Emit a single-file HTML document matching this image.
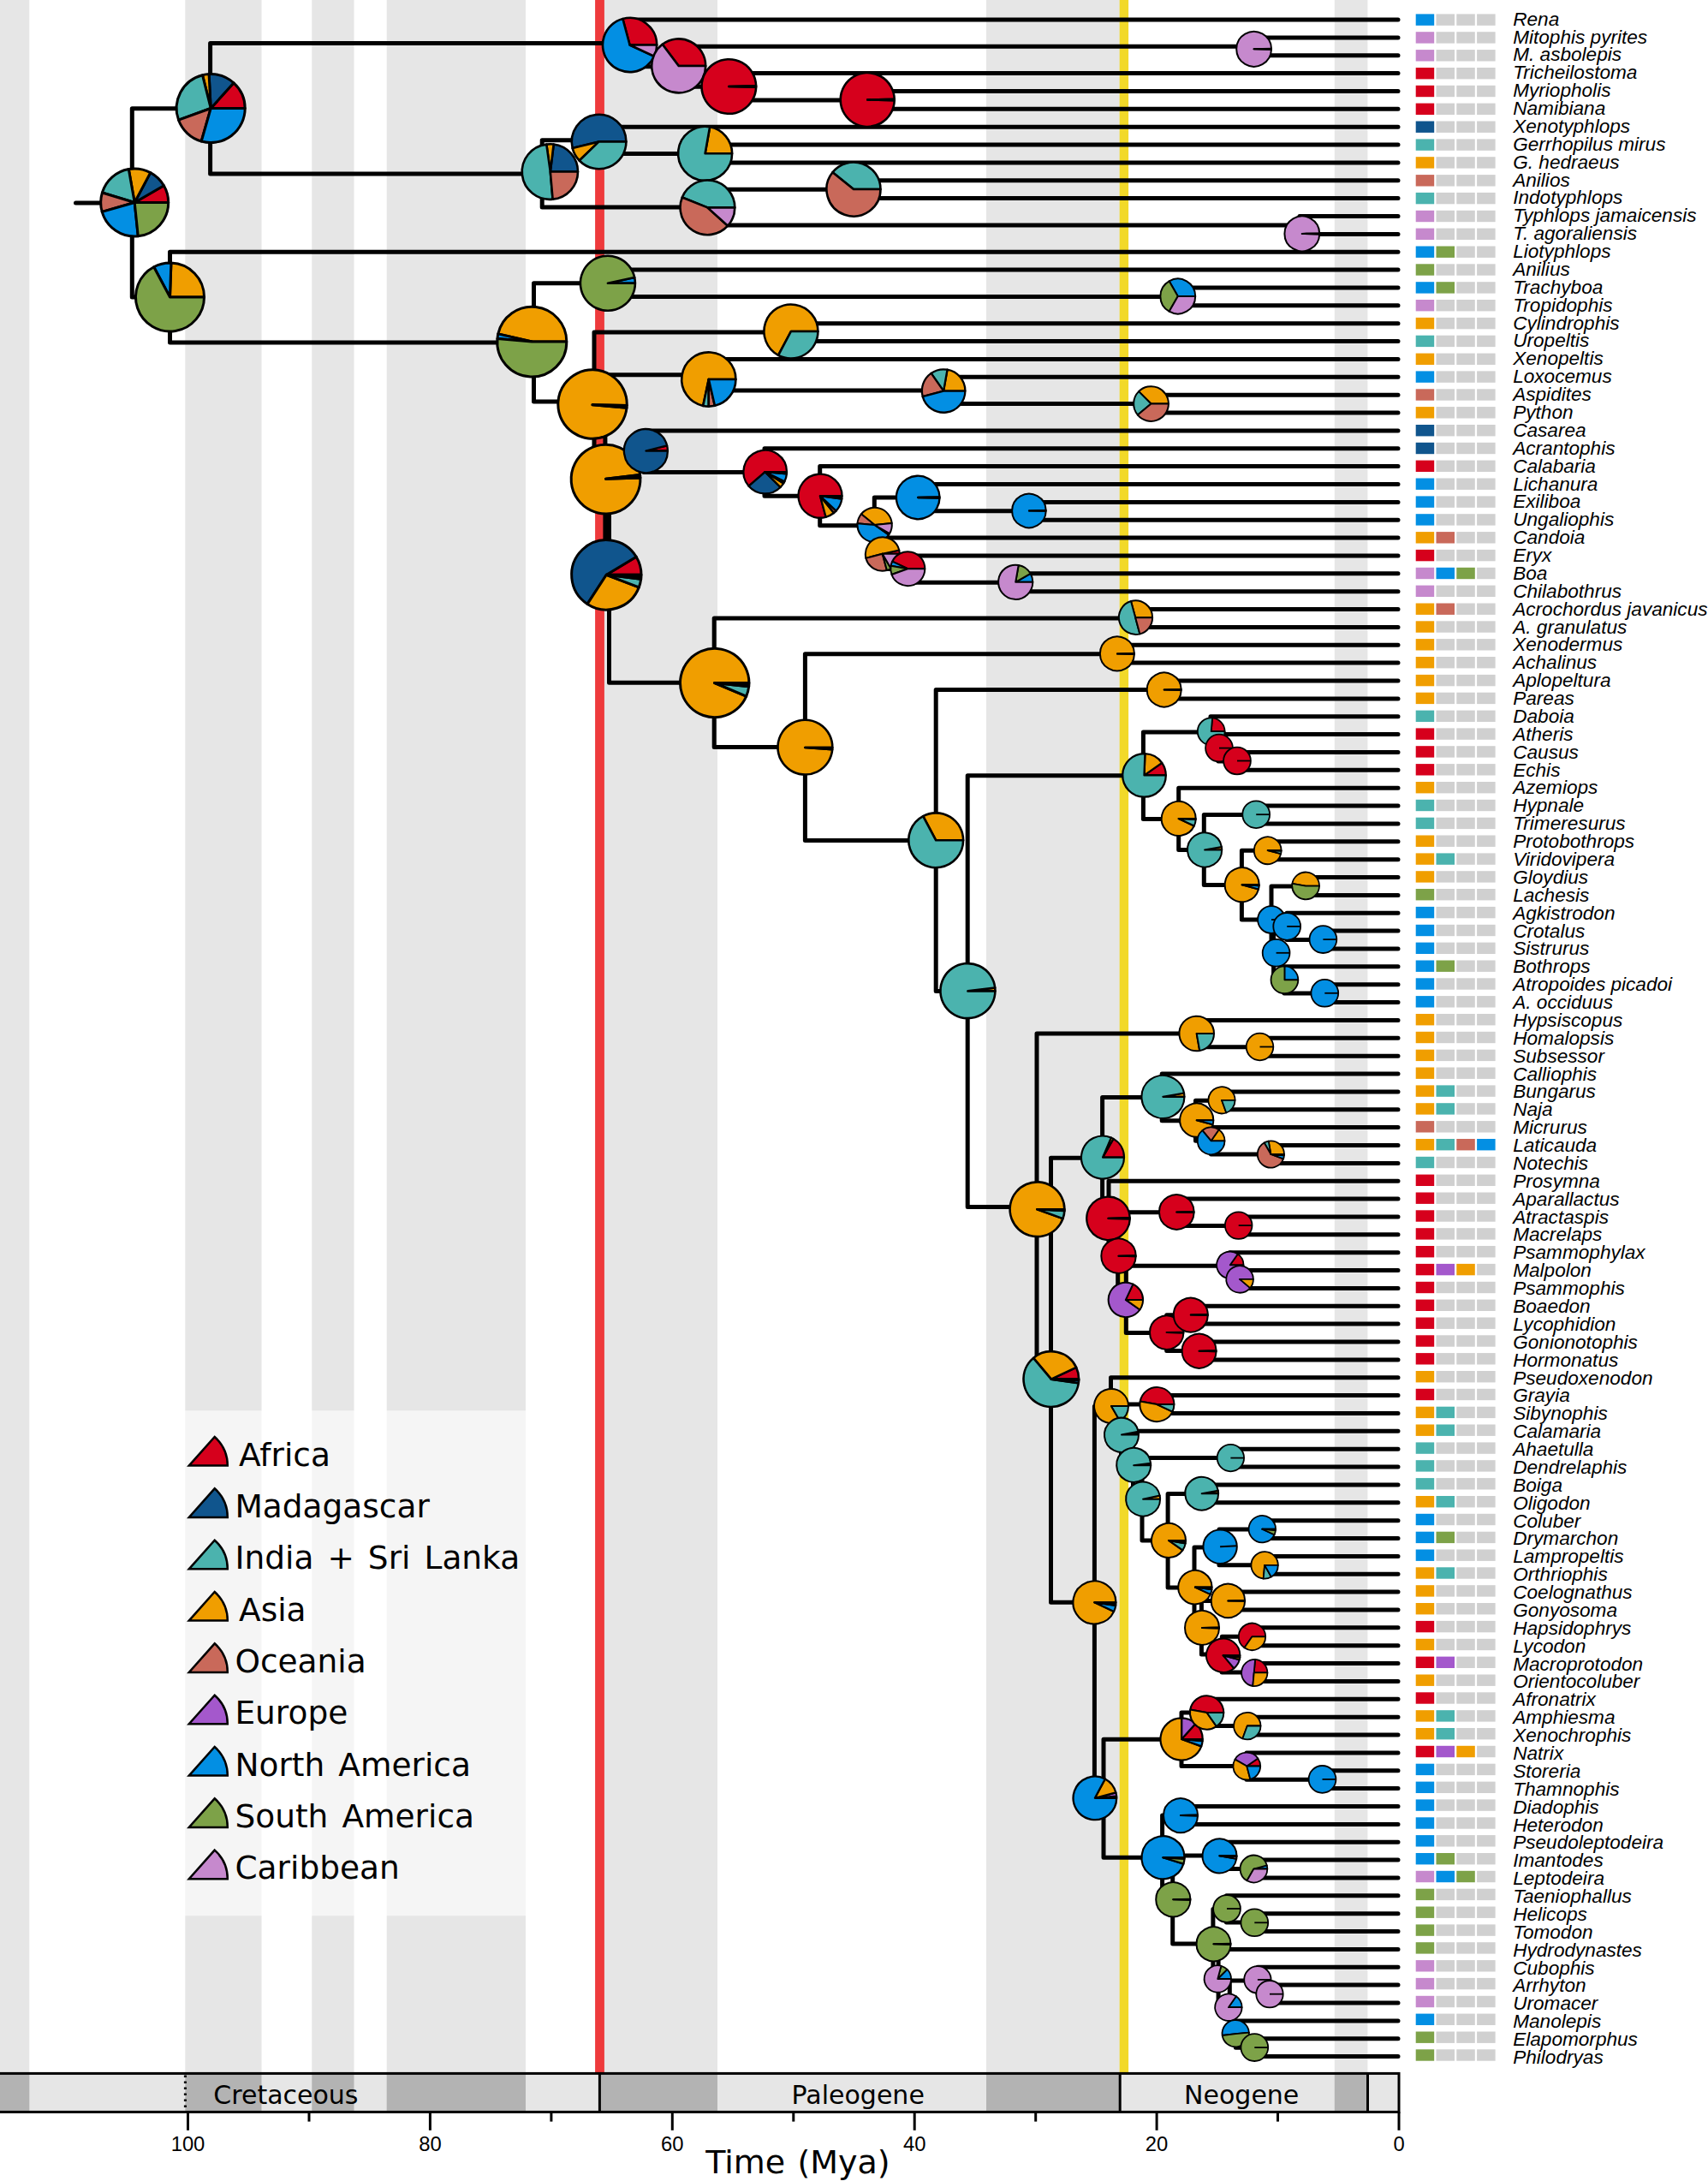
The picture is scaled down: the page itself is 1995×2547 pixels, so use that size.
<!DOCTYPE html>
<html lang="en"><head><meta charset="utf-8"><title>Snake biogeography phylogeny</title>
<style>html,body{margin:0;padding:0;background:#fff}svg{display:block}</style></head>
<body>
<svg width="1995" height="2547" viewBox="0 0 1995 2547">
<rect x="0" y="0" width="1995" height="2547" fill="#fff"/>
<g fill="#e6e6e6">
<rect x="0" y="0" width="34.3" height="2421.4"/>
<rect x="216.3" y="0" width="89.2" height="2421.4"/>
<rect x="364.3" y="0" width="49.2" height="2421.4"/>
<rect x="451.7" y="0" width="162.3" height="2421.4"/>
<rect x="700" y="0" width="138" height="2421.4"/>
<rect x="1152" y="0" width="156.6" height="2421.4"/>
<rect x="1558.8" y="0" width="38.6" height="2421.4"/>
</g>
<rect x="695.1" y="0" width="10.8" height="2421.4" fill="#ee3a3c"/>
<rect x="1307.7" y="0" width="10.4" height="2421.4" fill="#f2d929"/>
<path d="M88.5 236.9H154.3M154.3 126.7V347.1M154.3 126.7H245.6M245.6 50.4V203M245.6 50.4H735M735 23V77.8M735 23H1633M735 77.8H792M792 54.3V101.2M792 54.3H1462M1462 43.9V64.7M1462 43.9H1633M1462 64.7H1633M792 101.2H851M851 85.6V116.9M851 85.6H1633M851 116.9H1013M1013 106.5V127.3M1013 106.5H1633M1013 127.3H1633M245.6 203H633.2M633.2 163.8V242.1M633.2 163.8H699M699 148.2V179.5M699 148.2H1633M699 179.5H824.5M824.5 169.1V189.9M824.5 169.1H1633M824.5 189.9H1633M633.2 242.1H826M826 221.2V262.9M826 221.2H997M997 210.8V231.6M997 210.8H1633M997 231.6H1633M826 262.9H1518M1518 252.5V273.4M1518 252.5H1633M1518 273.4H1633M154.3 347.1H198.5M198.5 294.2V399.9M198.5 294.2H1633M198.5 399.9H623.5M623.5 330.8V469.1M623.5 330.8H709.5M709.5 315.1V346.4M709.5 315.1H1633M709.5 346.4H1375M1375 336V356.8M1375 336H1633M1375 356.8H1633M623.5 469.1H694M694 388.1V550M694 388.1H923.5M923.5 377.7V398.6M923.5 377.7H1633M923.5 398.6H1633M694 550H706.9M706.9 437.7V662.2M706.9 437.7H828M828 419.4V455.9M828 419.4H1633M828 455.9H1101M1101 440.3V471.6M1101 440.3H1633M1101 471.6H1344M1344 461.2V482M1344 461.2H1633M1344 482H1633M706.9 662.2H711.5M711.5 527.2V797.3M711.5 527.2H752M752 502.9V551.5M752 502.9H1633M752 551.5H893M893 523.8V579.2M893 523.8H1633M893 579.2H957.7M957.7 544.6V613.7M957.7 544.6H1633M957.7 613.7H1021.3M1021.3 581.1V646.3M1021.3 581.1H1071M1071 565.5V596.8M1071 565.5H1633M1071 596.8H1201M1201 586.4V607.2M1201 586.4H1633M1201 607.2H1633M1021.3 646.3H1030M1030 628.1V664.6M1030 628.1H1633M1030 664.6H1060M1060 648.9V680.2M1060 648.9H1633M1060 680.2H1186M1186 669.8V690.7M1186 669.8H1633M1186 690.7H1633M711.5 797.3H834.2M834.2 722V872.6M834.2 722H1326M1326 711.5V732.4M1326 711.5H1633M1326 732.4H1633M834.2 872.6H940.4M940.4 763.7V981.5M940.4 763.7H1304.5M1304.5 753.3V774.1M1304.5 753.3H1633M1304.5 774.1H1633M940.4 981.5H1093.2M1093.2 805.4V1157.5M1093.2 805.4H1359M1359 795V815.9M1359 795H1633M1359 815.9H1633M1093.2 1157.5H1130.2M1130.2 905.7V1409.4M1130.2 905.7H1335.4M1335.4 855V956.4M1335.4 855H1414M1414 836.7V873.2M1414 836.7H1633M1414 873.2H1423M1423 857.6V888.9M1423 857.6H1633M1423 888.9H1445M1445 878.5V899.3M1445 878.5H1633M1445 899.3H1633M1335.4 956.4H1376.7M1376.7 920.2V992.6M1376.7 920.2H1633M1376.7 992.6H1406.3M1406.3 951.5V1033.6M1406.3 951.5H1467M1467 941.1V961.9M1467 941.1H1633M1467 961.9H1633M1406.3 1033.6H1450.4M1450.4 993.2V1074.1M1450.4 993.2H1480.5M1480.5 982.8V1003.7M1480.5 982.8H1633M1480.5 1003.7H1633M1450.4 1074.1H1485M1485 1035V1113.2M1485 1035H1525M1525 1024.5V1045.4M1525 1024.5H1633M1525 1045.4H1633M1485 1113.2H1487.6M1487.6 1081.9V1144.5M1487.6 1081.9H1503M1503 1066.2V1097.5M1503 1066.2H1633M1503 1097.5H1545M1545 1087.1V1108M1545 1087.1H1633M1545 1108H1633M1487.6 1144.5H1500M1500 1128.8V1160.1M1500 1128.8H1633M1500 1160.1H1547M1547 1149.7V1170.6M1547 1149.7H1633M1547 1170.6H1633M1130.2 1409.4H1211M1211 1207.1V1611.7M1211 1207.1H1397M1397 1191.4V1222.7M1397 1191.4H1633M1397 1222.7H1471.5M1471.5 1212.3V1233.2M1471.5 1212.3H1633M1471.5 1233.2H1633M1211 1611.7H1227.5M1227.5 1352.2V1871.2M1227.5 1352.2H1287.6M1287.6 1281.4V1422.9M1287.6 1281.4H1357.2M1357.2 1254V1308.8M1357.2 1254H1633M1357.2 1308.8H1396.5M1396.5 1285.3V1332.3M1396.5 1285.3H1427M1427 1274.9V1295.8M1427 1274.9H1633M1427 1295.8H1633M1396.5 1332.3H1414.5M1414.5 1316.6V1347.9M1414.5 1316.6H1633M1414.5 1347.9H1484M1484 1337.5V1358.4M1484 1337.5H1633M1484 1358.4H1633M1287.6 1422.9H1295M1295 1379.2V1466.6M1295 1379.2H1633M1295 1466.6H1305.7M1305.7 1415.7V1517.5M1305.7 1415.7H1374M1374 1400.1V1431.4M1374 1400.1H1633M1374 1431.4H1446.5M1446.5 1421V1441.8M1446.5 1421H1633M1446.5 1441.8H1633M1305.7 1517.5H1315.3M1315.3 1478.3V1556.6M1315.3 1478.3H1436.5M1436.5 1462.7V1494M1436.5 1462.7H1633M1436.5 1494H1448M1448 1483.5V1504.4M1448 1483.5H1633M1448 1504.4H1633M1315.3 1556.6H1362.7M1362.7 1535.7V1577.4M1362.7 1535.7H1390.5M1390.5 1525.3V1546.1M1390.5 1525.3H1633M1390.5 1546.1H1633M1362.7 1577.4H1400.5M1400.5 1567V1587.9M1400.5 1567H1633M1400.5 1587.9H1633M1227.5 1871.2H1278.4M1278.4 1642.2V2100.2M1278.4 1642.2H1297.5M1297.5 1608.7V1675.6M1297.5 1608.7H1633M1297.5 1675.6H1309.5M1309.5 1640V1711.1M1309.5 1640H1351M1351 1629.6V1650.5M1351 1629.6H1633M1351 1650.5H1633M1309.5 1711.1H1323.5M1323.5 1671.3V1750.9M1323.5 1671.3H1633M1323.5 1750.9H1334M1334 1702.6V1799.1M1334 1702.6H1437M1437 1692.2V1713.1M1437 1692.2H1633M1437 1713.1H1633M1334 1799.1H1364.1M1364.1 1744.4V1853.9M1364.1 1744.4H1403M1403 1733.9V1754.8M1403 1733.9H1633M1403 1754.8H1633M1364.1 1853.9H1395M1395 1807V1900.8M1395 1807H1424M1424 1786.1V1827.8M1424 1786.1H1474M1474 1775.7V1796.5M1474 1775.7H1633M1474 1796.5H1633M1424 1827.8H1477M1477 1817.4V1838.3M1477 1817.4H1633M1477 1838.3H1633M1395 1900.8H1403.4M1403.4 1869.6V1932.1M1403.4 1869.6H1434M1434 1859.1V1880M1434 1859.1H1633M1434 1880H1633M1403.4 1932.1H1427.3M1427.3 1911.3V1953M1427.3 1911.3H1462.5M1462.5 1900.8V1921.7M1462.5 1900.8H1633M1462.5 1921.7H1633M1427.3 1953H1464.5M1464.5 1942.6V1963.4M1464.5 1942.6H1633M1464.5 1963.4H1633M1278.4 2100.2H1289M1289 2031.3V2169.2M1289 2031.3H1380M1380 2000V2062.6M1380 2000H1409M1409 1984.3V2015.6M1409 1984.3H1633M1409 2015.6H1456.5M1456.5 2005.2V2026M1456.5 2005.2H1633M1456.5 2026H1633M1380 2062.6H1456M1456 2046.9V2078.2M1456 2046.9H1633M1456 2078.2H1544.5M1544.5 2067.8V2088.6M1544.5 2067.8H1633M1544.5 2088.6H1633M1289 2169.2H1357.6M1357.6 2119.9V2218.4M1357.6 2119.9H1379M1379 2109.5V2130.4M1379 2109.5H1633M1379 2130.4H1633M1357.6 2218.4H1369.7M1369.7 2166.9V2269.9M1369.7 2166.9H1424.5M1424.5 2151.2V2182.5M1424.5 2151.2H1633M1424.5 2182.5H1464.4M1464.4 2172.1V2193M1464.4 2172.1H1633M1464.4 2193H1633M1369.7 2269.9H1416.9M1416.9 2229.5V2310.3M1416.9 2229.5H1432.5M1432.5 2213.8V2245.1M1432.5 2213.8H1633M1432.5 2245.1H1465.3M1465.3 2234.7V2255.6M1465.3 2234.7H1633M1465.3 2255.6H1633M1416.9 2310.3H1423.1M1423.1 2276.4V2344.2M1423.1 2276.4H1633M1423.1 2344.2H1436.3M1436.3 2312.9V2375.5M1436.3 2312.9H1469M1469 2297.3V2328.6M1469 2297.3H1633M1469 2328.6H1483M1483 2318.1V2339M1483 2318.1H1633M1483 2339H1633M1436.3 2375.5H1443.4M1443.4 2359.9V2391.2M1443.4 2359.9H1633M1443.4 2391.2H1465.3M1465.3 2380.7V2401.6M1465.3 2380.7H1633M1465.3 2401.6H1633" fill="none" stroke="#000" stroke-width="5" stroke-linecap="round" stroke-linejoin="round"/>
<g stroke="#000" stroke-linejoin="round">
<g stroke-width="3"><path d="M157.2 236.5L196.7 236.5A39.5 39.5 0 0 0 191.4 216.8Z" fill="#d6001c"/><path d="M157.2 236.5L191.4 216.8A39.5 39.5 0 0 0 175.7 201.6Z" fill="#10558d"/><path d="M157.2 236.5L175.7 201.6A39.5 39.5 0 0 0 150.3 197.6Z" fill="#f09e00"/><path d="M157.2 236.5L150.3 197.6A39.5 39.5 0 0 0 119.4 225Z" fill="#4bb3ae"/><path d="M157.2 236.5L119.4 225A39.5 39.5 0 0 0 119.2 247.4Z" fill="#c9695a"/><path d="M157.2 236.5L119.2 247.4A39.5 39.5 0 0 0 161.3 275.8Z" fill="#038fe3"/><path d="M157.2 236.5L161.3 275.8A39.5 39.5 0 0 0 196.7 236.5Z" fill="#7da248"/></g>
<g stroke-width="3"><path d="M246.2 126.5L286.2 126.5A40 40 0 0 0 273 96.8Z" fill="#d6001c"/><path d="M246.2 126.5L273 96.8A40 40 0 0 0 244.1 86.6Z" fill="#10558d"/><path d="M246.2 126.5L244.1 86.6A40 40 0 0 0 236.5 87.7Z" fill="#f09e00"/><path d="M246.2 126.5L236.5 87.7A40 40 0 0 0 208.6 140.2Z" fill="#4bb3ae"/><path d="M246.2 126.5L208.6 140.2A40 40 0 0 0 235.2 165Z" fill="#c9695a"/><path d="M246.2 126.5L235.2 165A40 40 0 0 0 286.2 126.5Z" fill="#038fe3"/></g>
<g stroke-width="3"><path d="M198.5 347L238.5 347A40 40 0 0 0 199.9 307Z" fill="#f09e00"/><path d="M198.5 347L199.9 307A40 40 0 0 0 179.7 311.7Z" fill="#038fe3"/><path d="M198.5 347L179.7 311.7A40 40 0 1 0 238.5 347Z" fill="#7da248"/></g>
<g stroke-width="2.6"><path d="M735.6 52.5L767.2 52.5A31.6 31.6 0 0 0 727.4 22Z" fill="#d6001c"/><path d="M735.6 52.5L727.4 22A31.6 31.6 0 1 0 764.2 65.9Z" fill="#038fe3"/><path d="M735.6 52.5L764.2 65.9A31.6 31.6 0 0 0 767.2 52.5Z" fill="#c689cd"/></g>
<g stroke-width="2.6"><path d="M792.7 77L824.2 77A31.5 31.5 0 0 0 773.7 51.8Z" fill="#d6001c"/><path d="M792.7 77L773.7 51.8A31.5 31.5 0 1 0 824.2 77Z" fill="#c689cd"/></g>
<g stroke-width="2.6"><path d="M851.3 101L883.1 100.3A31.8 31.8 0 1 0 883.1 101.7Z" fill="#d6001c"/><path d="M851.3 101L883.1 101.7A31.8 31.8 0 0 0 883.1 100.3Z" fill="#000"/></g>
<g stroke-width="2.6"><path d="M1013.2 116.5L1044.7 115.8A31.5 31.5 0 1 0 1044.7 117.2Z" fill="#d6001c"/><path d="M1013.2 116.5L1044.7 117.2A31.5 31.5 0 0 0 1044.7 115.8Z" fill="#000"/></g>
<g stroke-width="2"><path d="M1464.6 57.3L1485 56.8A20.4 20.4 0 1 0 1485 57.8Z" fill="#c689cd"/><path d="M1464.6 57.3L1485 57.8A20.4 20.4 0 0 0 1485 56.8Z" fill="#000"/></g>
<g stroke-width="2.6"><path d="M642.8 200.5L675 200.5A32.2 32.2 0 0 0 646.7 168.5Z" fill="#10558d"/><path d="M642.8 200.5L646.7 168.5A32.2 32.2 0 0 0 638.3 168.6Z" fill="#f09e00"/><path d="M642.8 200.5L638.3 168.6A32.2 32.2 0 0 0 645.6 232.6Z" fill="#4bb3ae"/><path d="M642.8 200.5L645.6 232.6A32.2 32.2 0 0 0 675 200.5Z" fill="#c9695a"/></g>
<g stroke-width="2.6"><path d="M699.6 165.4L731.4 165.4A31.8 31.8 0 1 0 668.7 173.1Z" fill="#10558d"/><path d="M699.6 165.4L668.7 173.1A31.8 31.8 0 0 0 676.7 187.5Z" fill="#f09e00"/><path d="M699.6 165.4L676.7 187.5A31.8 31.8 0 0 0 731.4 165.4Z" fill="#4bb3ae"/></g>
<g stroke-width="2.6"><path d="M823.6 179.3L855.1 179.3A31.5 31.5 0 0 0 829.1 148.3Z" fill="#f09e00"/><path d="M823.6 179.3L829.1 148.3A31.5 31.5 0 1 0 855.1 179.3Z" fill="#4bb3ae"/></g>
<g stroke-width="2.6"><path d="M826.4 242.4L858.3 242.4A31.9 31.9 0 0 0 796.8 230.5Z" fill="#4bb3ae"/><path d="M826.4 242.4L796.8 230.5A31.9 31.9 0 0 0 850.1 263.7Z" fill="#c9695a"/><path d="M826.4 242.4L850.1 263.7A31.9 31.9 0 0 0 858.3 242.4Z" fill="#c689cd"/></g>
<g stroke-width="2.6"><path d="M997 221L1028.5 221A31.5 31.5 0 0 0 972.5 201.2Z" fill="#4bb3ae"/><path d="M997 221L972.5 201.2A31.5 31.5 0 1 0 1028.5 221Z" fill="#c9695a"/></g>
<g stroke-width="2"><path d="M1520.8 272.9L1541.2 272.4A20.4 20.4 0 1 0 1541.2 273.4Z" fill="#c689cd"/><path d="M1520.8 272.9L1541.2 273.4A20.4 20.4 0 0 0 1541.2 272.4Z" fill="#000"/></g>
<g stroke-width="2.6"><path d="M709.9 330.8L741.9 330.8A32 32 0 0 0 741.2 324.1Z" fill="#038fe3"/><path d="M709.9 330.8L741.2 324.1A32 32 0 1 0 741.9 330.8Z" fill="#7da248"/></g>
<g stroke-width="2"><path d="M1375.8 346L1396.2 346A20.4 20.4 0 0 0 1365.6 328.3Z" fill="#038fe3"/><path d="M1375.8 346L1365.6 328.3A20.4 20.4 0 0 0 1365.6 363.7Z" fill="#7da248"/><path d="M1375.8 346L1365.6 363.7A20.4 20.4 0 0 0 1396.2 346Z" fill="#c689cd"/></g>
<g stroke-width="3"><path d="M621.3 399L661.8 399A40.5 40.5 0 0 0 581.8 389.9Z" fill="#f09e00"/><path d="M621.3 399L581.8 389.9A40.5 40.5 0 0 0 581 395.5Z" fill="#038fe3"/><path d="M621.3 399L581 395.5A40.5 40.5 0 1 0 661.8 399Z" fill="#7da248"/></g>
<g stroke-width="2.6"><path d="M923.9 387L955.4 387A31.5 31.5 0 1 0 909.1 414.8Z" fill="#f09e00"/><path d="M923.9 387L909.1 414.8A31.5 31.5 0 0 0 955.4 387Z" fill="#4bb3ae"/></g>
<g stroke-width="3"><path d="M692 472.8L732.2 473.5A40.2 40.2 0 1 0 732 476.3Z" fill="#f09e00"/><path d="M692 472.8L732 476.3A40.2 40.2 0 0 0 732.2 473.5Z" fill="#000"/></g>
<g stroke-width="2.6"><path d="M827.8 443L859.4 443A31.6 31.6 0 1 0 821.2 473.9Z" fill="#f09e00"/><path d="M827.8 443L821.2 473.9A31.6 31.6 0 0 0 827.8 474.6Z" fill="#4bb3ae"/><path d="M827.8 443L827.8 474.6A31.6 31.6 0 0 0 834.9 473.8Z" fill="#c9695a"/><path d="M827.8 443L834.9 473.8A31.6 31.6 0 0 0 859.4 443Z" fill="#038fe3"/></g>
<g stroke-width="2.3"><path d="M1102.1 456.6L1127.4 456.6A25.3 25.3 0 0 0 1106.5 431.7Z" fill="#f09e00"/><path d="M1102.1 456.6L1106.5 431.7A25.3 25.3 0 0 0 1087.6 435.9Z" fill="#4bb3ae"/><path d="M1102.1 456.6L1087.6 435.9A25.3 25.3 0 0 0 1077.7 463.1Z" fill="#c9695a"/><path d="M1102.1 456.6L1077.7 463.1A25.3 25.3 0 0 0 1127.4 456.6Z" fill="#038fe3"/></g>
<g stroke-width="2"><path d="M1344.5 471.5L1364.9 471.5A20.4 20.4 0 0 0 1330.1 457.1Z" fill="#f09e00"/><path d="M1344.5 471.5L1330.1 457.1A20.4 20.4 0 0 0 1328.9 484.6Z" fill="#4bb3ae"/><path d="M1344.5 471.5L1328.9 484.6A20.4 20.4 0 0 0 1364.9 471.5Z" fill="#c9695a"/></g>
<g stroke-width="3"><path d="M707.5 559.3L747.6 554.4A40.4 40.4 0 1 0 747.9 557.9Z" fill="#f09e00"/><path d="M707.5 559.3L747.9 557.9A40.4 40.4 0 0 0 747.6 554.4Z" fill="#000"/></g>
<g stroke-width="2.3"><path d="M754.4 526.5L779.9 526.5A25.5 25.5 0 0 0 779.1 520.3Z" fill="#d6001c"/><path d="M754.4 526.5L779.1 520.3A25.5 25.5 0 1 0 779.9 526.5Z" fill="#10558d"/></g>
<g stroke-width="3"><path d="M708.3 671.3L749 671.3A40.7 40.7 0 0 0 743.2 650.3Z" fill="#d6001c"/><path d="M708.3 671.3L743.2 650.3A40.7 40.7 0 1 0 686.1 705.4Z" fill="#10558d"/><path d="M708.3 671.3L686.1 705.4A40.7 40.7 0 0 0 746.3 685.9Z" fill="#f09e00"/><path d="M708.3 671.3L746.3 685.9A40.7 40.7 0 0 0 748.7 676.3Z" fill="#4bb3ae"/><path d="M708.3 671.3L748.7 676.3A40.7 40.7 0 0 0 749 671.3Z" fill="#000"/></g>
<g stroke-width="2.3"><path d="M893.7 551.1L919 551.1A25.3 25.3 0 1 0 874.6 567.7Z" fill="#d6001c"/><path d="M893.7 551.1L874.6 567.7A25.3 25.3 0 0 0 911.6 569Z" fill="#10558d"/><path d="M893.7 551.1L911.6 569A25.3 25.3 0 0 0 915.2 564.5Z" fill="#f09e00"/><path d="M893.7 551.1L915.2 564.5A25.3 25.3 0 0 0 916.4 562.2Z" fill="#c9695a"/><path d="M893.7 551.1L916.4 562.2A25.3 25.3 0 0 0 918.9 553.3Z" fill="#038fe3"/><path d="M893.7 551.1L918.9 553.3A25.3 25.3 0 0 0 919 551.1Z" fill="#000"/></g>
<g stroke-width="2.3"><path d="M958 579.2L983.5 579.2A25.5 25.5 0 1 0 964.6 603.8Z" fill="#d6001c"/><path d="M958 579.2L964.6 603.8A25.5 25.5 0 0 0 974 599Z" fill="#f09e00"/><path d="M958 579.2L974 599A25.5 25.5 0 0 0 976.6 596.6Z" fill="#c9695a"/><path d="M958 579.2L976.6 596.6A25.5 25.5 0 0 0 983.3 582.7Z" fill="#038fe3"/><path d="M958 579.2L983.3 582.7A25.5 25.5 0 0 0 983.5 579.2Z" fill="#000"/></g>
<g stroke-width="2"><path d="M1021.6 613L1041.7 610.9A20.2 20.2 0 0 0 1005.9 600.3Z" fill="#f09e00"/><path d="M1021.6 613L1005.9 600.3A20.2 20.2 0 0 0 1001.5 611.2Z" fill="#c9695a"/><path d="M1021.6 613L1001.5 611.2A20.2 20.2 0 0 0 1038.1 624.6Z" fill="#038fe3"/><path d="M1021.6 613L1038.1 624.6A20.2 20.2 0 0 0 1039.1 623.1Z" fill="#7da248"/><path d="M1021.6 613L1039.1 623.1A20.2 20.2 0 0 0 1041.7 610.9Z" fill="#c689cd"/></g>
<g stroke-width="2.3"><path d="M1072.2 581L1097.5 580.4A25.3 25.3 0 1 0 1097.5 581.6Z" fill="#038fe3"/><path d="M1072.2 581L1097.5 581.6A25.3 25.3 0 0 0 1097.5 580.4Z" fill="#000"/></g>
<g stroke-width="2"><path d="M1201.9 596.4L1221.7 596A19.8 19.8 0 1 0 1221.7 596.8Z" fill="#038fe3"/><path d="M1201.9 596.4L1221.7 596.8A19.8 19.8 0 0 0 1221.7 596Z" fill="#000"/></g>
<g stroke-width="2"><path d="M1030.7 646.7L1050.7 646.7A20 20 0 0 0 1050.3 642.5Z" fill="#d6001c"/><path d="M1030.7 646.7L1050.3 642.5A20 20 0 1 0 1011.4 651.9Z" fill="#f09e00"/><path d="M1030.7 646.7L1011.4 651.9A20 20 0 0 0 1035.9 666Z" fill="#c9695a"/><path d="M1030.7 646.7L1035.9 666A20 20 0 0 0 1040.7 664Z" fill="#7da248"/><path d="M1030.7 646.7L1040.7 664A20 20 0 0 0 1050.7 646.7Z" fill="#c689cd"/></g>
<g stroke-width="2"><path d="M1060.3 664.2L1080.3 664.2A20 20 0 0 0 1042.2 655.7Z" fill="#d6001c"/><path d="M1060.3 664.2L1042.2 655.7A20 20 0 0 0 1040.6 660.7Z" fill="#038fe3"/><path d="M1060.3 664.2L1040.6 660.7A20 20 0 0 0 1041.5 671Z" fill="#7da248"/><path d="M1060.3 664.2L1041.5 671A20 20 0 0 0 1080.3 664.2Z" fill="#c689cd"/></g>
<g stroke-width="2"><path d="M1186.2 679.8L1206.3 679.8A20.1 20.1 0 0 0 1203.6 669.8Z" fill="#038fe3"/><path d="M1186.2 679.8L1203.6 669.8A20.1 20.1 0 0 0 1189.7 660Z" fill="#7da248"/><path d="M1186.2 679.8L1189.7 660A20.1 20.1 0 1 0 1206.3 679.8Z" fill="#c689cd"/></g>
<g stroke-width="2"><path d="M1326.2 721.2L1346.1 721.2A19.9 19.9 0 0 0 1321 702Z" fill="#f09e00"/><path d="M1326.2 721.2L1321 702A19.9 19.9 0 0 0 1331.4 740.4Z" fill="#4bb3ae"/><path d="M1326.2 721.2L1331.4 740.4A19.9 19.9 0 0 0 1346.1 721.2Z" fill="#c9695a"/></g>
<g stroke-width="3"><path d="M834.7 797.5L874.9 797.5A40.2 40.2 0 1 0 871.7 813.2Z" fill="#f09e00"/><path d="M834.7 797.5L871.7 813.2A40.2 40.2 0 0 0 874.7 801.7Z" fill="#4bb3ae"/><path d="M834.7 797.5L874.7 801.7A40.2 40.2 0 0 0 874.9 797.5Z" fill="#000"/></g>
<g stroke-width="2"><path d="M1304.9 763.4L1324.9 762.9A20 20 0 1 0 1324.9 763.9Z" fill="#f09e00"/><path d="M1304.9 763.4L1324.9 763.9A20 20 0 0 0 1324.9 762.9Z" fill="#000"/></g>
<g stroke-width="2.6"><path d="M940.4 873L972.3 873A31.9 31.9 0 1 0 972.2 875.2Z" fill="#f09e00"/><path d="M940.4 873L972.2 875.2A31.9 31.9 0 0 0 972.3 873Z" fill="#000"/></g>
<g stroke-width="2"><path d="M1359.7 805.5L1379.7 805A20 20 0 1 0 1379.7 806Z" fill="#f09e00"/><path d="M1359.7 805.5L1379.7 806A20 20 0 0 0 1379.7 805Z" fill="#000"/></g>
<g stroke-width="2.6"><path d="M1093.2 981.3L1125.1 981.3A31.9 31.9 0 0 0 1078.2 953.1Z" fill="#f09e00"/><path d="M1093.2 981.3L1078.2 953.1A31.9 31.9 0 1 0 1125.1 981.3Z" fill="#4bb3ae"/></g>
<g stroke-width="2.6"><path d="M1130.4 1157.4L1162.4 1157.4A32 32 0 0 0 1162.2 1153.5Z" fill="#f09e00"/><path d="M1130.4 1157.4L1162.2 1153.5A32 32 0 1 0 1162.4 1157.4Z" fill="#4bb3ae"/></g>
<g stroke-width="2.3"><path d="M1336.5 905.4L1361.8 905.4A25.3 25.3 0 0 0 1357.2 890.9Z" fill="#d6001c"/><path d="M1336.5 905.4L1357.2 890.9A25.3 25.3 0 0 0 1337.4 880.1Z" fill="#f09e00"/><path d="M1336.5 905.4L1337.4 880.1A25.3 25.3 0 1 0 1361.8 905.4Z" fill="#4bb3ae"/></g>
<g stroke-width="1.8"><path d="M1414.7 854.2L1430.6 854.2A15.9 15.9 0 0 0 1416.1 838.4Z" fill="#d6001c"/><path d="M1414.7 854.2L1416.1 838.4A15.9 15.9 0 1 0 1430.6 854.2Z" fill="#4bb3ae"/></g>
<g stroke-width="1.8"><circle cx="1424" cy="873.6" r="15.9" fill="#d6001c"/><path d="M1424 873.6L1439.9 873.6"/></g>
<g stroke-width="1.8"><circle cx="1445" cy="888.5" r="15.9" fill="#d6001c"/><path d="M1445 888.5L1460.9 888.5"/></g>
<g stroke-width="2"><path d="M1376.7 956L1396.7 956A20 20 0 1 0 1394.8 964.5Z" fill="#f09e00"/><path d="M1376.7 956L1394.8 964.5A20 20 0 0 0 1396.7 957Z" fill="#4bb3ae"/><path d="M1376.7 956L1396.7 957A20 20 0 0 0 1396.7 956Z" fill="#000"/></g>
<g stroke-width="2"><path d="M1407.1 992.5L1427.2 992.5A20.1 20.1 0 0 0 1426.9 989Z" fill="#f09e00"/><path d="M1407.1 992.5L1426.9 989A20.1 20.1 0 1 0 1427.2 992.5Z" fill="#4bb3ae"/></g>
<g stroke-width="1.8"><circle cx="1467.2" cy="951.2" r="15.9" fill="#4bb3ae"/><path d="M1467.2 951.2L1483.1 951.2"/></g>
<g stroke-width="2"><path d="M1450.7 1033.3L1470.7 1033.3A20 20 0 1 0 1470 1038.5Z" fill="#f09e00"/><path d="M1450.7 1033.3L1470 1038.5A20 20 0 0 0 1470.7 1034.3Z" fill="#038fe3"/><path d="M1450.7 1033.3L1470.7 1034.3A20 20 0 0 0 1470.7 1033.3Z" fill="#000"/></g>
<g stroke-width="1.8"><path d="M1480.7 993.1L1496.6 993.1A15.9 15.9 0 1 0 1496.1 997.2Z" fill="#f09e00"/><path d="M1480.7 993.1L1496.1 997.2A15.9 15.9 0 0 0 1496.6 993.7Z" fill="#4bb3ae"/><path d="M1480.7 993.1L1496.6 993.7A15.9 15.9 0 0 0 1496.6 993.1Z" fill="#000"/></g>
<g stroke-width="1.8"><circle cx="1485" cy="1074" r="15.9" fill="#038fe3"/><path d="M1485 1074L1500.9 1074"/></g>
<g stroke-width="1.8"><path d="M1525.1 1034.7L1541 1034.7A15.9 15.9 0 0 0 1509.4 1031.9Z" fill="#f09e00"/><path d="M1525.1 1034.7L1509.4 1031.9A15.9 15.9 0 1 0 1541 1034.7Z" fill="#7da248"/></g>
<g stroke-width="1.8"><circle cx="1503.2" cy="1081.9" r="15.9" fill="#038fe3"/><path d="M1503.2 1081.9L1519.1 1081.9"/></g>
<g stroke-width="1.8"><circle cx="1545.4" cy="1097.1" r="15.9" fill="#038fe3"/><path d="M1545.4 1097.1L1561.3 1097.1"/></g>
<g stroke-width="1.8"><circle cx="1490.6" cy="1112.8" r="15.9" fill="#038fe3"/><path d="M1490.6 1112.8L1506.5 1112.8"/></g>
<g stroke-width="1.8"><path d="M1500.4 1144.3L1516.3 1144.3A15.9 15.9 0 0 0 1500.4 1128.4Z" fill="#038fe3"/><path d="M1500.4 1144.3L1500.4 1128.4A15.9 15.9 0 1 0 1516.3 1144.3Z" fill="#7da248"/></g>
<g stroke-width="1.8"><circle cx="1547.3" cy="1159.8" r="15.9" fill="#038fe3"/><path d="M1547.3 1159.8L1563.2 1159.8"/></g>
<g stroke-width="2"><path d="M1397.7 1207L1418 1207A20.3 20.3 0 1 0 1401.2 1227Z" fill="#f09e00"/><path d="M1397.7 1207L1401.2 1227A20.3 20.3 0 0 0 1418 1207Z" fill="#4bb3ae"/></g>
<g stroke-width="1.8"><circle cx="1471.5" cy="1222.5" r="15.8" fill="#f09e00"/><path d="M1471.5 1222.5L1487.3 1222.5"/></g>
<g stroke-width="2.6"><path d="M1211.5 1412.2L1243.4 1412.2A31.9 31.9 0 1 0 1241.5 1423.1Z" fill="#f09e00"/><path d="M1211.5 1412.2L1241.5 1423.1A31.9 31.9 0 0 0 1243.4 1413.9Z" fill="#4bb3ae"/><path d="M1211.5 1412.2L1243.4 1413.9A31.9 31.9 0 0 0 1243.4 1412.2Z" fill="#000"/></g>
<g stroke-width="2.6"><path d="M1227.8 1610.6L1260.1 1610.6A32.3 32.3 0 0 0 1257.1 1596.9Z" fill="#d6001c"/><path d="M1227.8 1610.6L1257.1 1596.9A32.3 32.3 0 0 0 1207 1585.9Z" fill="#f09e00"/><path d="M1227.8 1610.6L1207 1585.9A32.3 32.3 0 1 0 1259.8 1615.1Z" fill="#4bb3ae"/><path d="M1227.8 1610.6L1259.8 1615.1A32.3 32.3 0 0 0 1260.1 1611.7Z" fill="#038fe3"/><path d="M1227.8 1610.6L1260.1 1611.7A32.3 32.3 0 0 0 1260.1 1610.6Z" fill="#000"/></g>
<g stroke-width="2.2"><path d="M1288 1351.6L1313 1351.6A25 25 0 0 0 1300.5 1329.9Z" fill="#d6001c"/><path d="M1288 1351.6L1300.5 1329.9A25 25 0 0 0 1297.8 1328.6Z" fill="#f09e00"/><path d="M1288 1351.6L1297.8 1328.6A25 25 0 1 0 1313 1351.6Z" fill="#4bb3ae"/></g>
<g stroke-width="2.2"><path d="M1358.4 1280.8L1383.4 1280.8A25 25 0 0 0 1383 1276.5Z" fill="#f09e00"/><path d="M1358.4 1280.8L1383 1276.5A25 25 0 1 0 1383.4 1280.8Z" fill="#4bb3ae"/></g>
<g stroke-width="2"><path d="M1397.7 1308.2L1417.3 1308.2A19.6 19.6 0 1 0 1416.6 1313.3Z" fill="#f09e00"/><path d="M1397.7 1308.2L1416.6 1313.3A19.6 19.6 0 0 0 1417.3 1308.2Z" fill="#038fe3"/></g>
<g stroke-width="1.8"><path d="M1427 1284.8L1442.6 1284.8A15.6 15.6 0 1 0 1432.3 1299.5Z" fill="#f09e00"/><path d="M1427 1284.8L1432.3 1299.5A15.6 15.6 0 0 0 1442.6 1284.8Z" fill="#4bb3ae"/></g>
<g stroke-width="1.8"><path d="M1414.6 1332.3L1430.5 1332.3A15.9 15.9 0 0 0 1423.7 1319.3Z" fill="#f09e00"/><path d="M1414.6 1332.3L1423.7 1319.3A15.9 15.9 0 0 0 1404.4 1320.1Z" fill="#c9695a"/><path d="M1414.6 1332.3L1404.4 1320.1A15.9 15.9 0 1 0 1430.5 1332.3Z" fill="#038fe3"/></g>
<g stroke-width="1.8"><path d="M1484.4 1348L1500 1348A15.6 15.6 0 0 0 1481.7 1332.6Z" fill="#f09e00"/><path d="M1484.4 1348L1481.7 1332.6A15.6 15.6 0 0 0 1476.6 1334.5Z" fill="#4bb3ae"/><path d="M1484.4 1348L1476.6 1334.5A15.6 15.6 0 1 0 1499.1 1353.3Z" fill="#c9695a"/><path d="M1484.4 1348L1499.1 1353.3A15.6 15.6 0 0 0 1499.9 1349.4Z" fill="#038fe3"/><path d="M1484.4 1348L1499.9 1349.4A15.6 15.6 0 0 0 1500 1348Z" fill="#000"/></g>
<g stroke-width="2.3"><path d="M1294.5 1422.8L1319.8 1422.2A25.3 25.3 0 1 0 1319.8 1423.4Z" fill="#d6001c"/><path d="M1294.5 1422.8L1319.8 1423.4A25.3 25.3 0 0 0 1319.8 1422.2Z" fill="#000"/></g>
<g stroke-width="2"><path d="M1374.3 1415.4L1394.6 1414.9A20.3 20.3 0 1 0 1394.6 1415.9Z" fill="#d6001c"/><path d="M1374.3 1415.4L1394.6 1415.9A20.3 20.3 0 0 0 1394.6 1414.9Z" fill="#000"/></g>
<g stroke-width="1.8"><circle cx="1446.7" cy="1431.1" r="15.8" fill="#d6001c"/><path d="M1446.7 1431.1L1462.5 1431.1"/></g>
<g stroke-width="2"><path d="M1306.5 1466.7L1326.7 1466.2A20.2 20.2 0 1 0 1326.7 1467.2Z" fill="#d6001c"/><path d="M1306.5 1466.7L1326.7 1467.2A20.2 20.2 0 0 0 1326.7 1466.2Z" fill="#000"/></g>
<g stroke-width="2"><path d="M1314.9 1517.9L1335.1 1517.9A20.2 20.2 0 0 0 1323.4 1499.6Z" fill="#d6001c"/><path d="M1314.9 1517.9L1323.4 1499.6A20.2 20.2 0 1 0 1331.4 1529.5Z" fill="#a458cc"/><path d="M1314.9 1517.9L1331.4 1529.5A20.2 20.2 0 0 0 1335.1 1517.9Z" fill="#f09e00"/></g>
<g stroke-width="1.8"><path d="M1436.8 1477.3L1452.5 1477.3A15.7 15.7 0 0 0 1445.8 1464.4Z" fill="#d6001c"/><path d="M1436.8 1477.3L1445.8 1464.4A15.7 15.7 0 1 0 1452.5 1477.3Z" fill="#a458cc"/></g>
<g stroke-width="1.8"><path d="M1448.1 1493.9L1463.9 1493.9A15.8 15.8 0 1 0 1460.2 1504.1Z" fill="#a458cc"/><path d="M1448.1 1493.9L1460.2 1504.1A15.8 15.8 0 0 0 1463.9 1493.9Z" fill="#f09e00"/></g>
<g stroke-width="2"><path d="M1362.7 1556.1L1382.4 1555.7A19.7 19.7 0 1 0 1382.4 1556.5Z" fill="#d6001c"/><path d="M1362.7 1556.1L1382.4 1556.5A19.7 19.7 0 0 0 1382.4 1555.7Z" fill="#000"/></g>
<g stroke-width="2"><path d="M1390.8 1535.6L1410.8 1535.1A20 20 0 1 0 1410.8 1536.1Z" fill="#d6001c"/><path d="M1390.8 1535.6L1410.8 1536.1A20 20 0 0 0 1410.8 1535.1Z" fill="#000"/></g>
<g stroke-width="2"><path d="M1400.6 1577.7L1420.6 1577.2A20 20 0 1 0 1420.6 1578.2Z" fill="#d6001c"/><path d="M1400.6 1577.7L1420.6 1578.2A20 20 0 0 0 1420.6 1577.2Z" fill="#000"/></g>
<g stroke-width="2"><path d="M1298 1642L1318 1642A20 20 0 1 0 1308 1659.3Z" fill="#f09e00"/><path d="M1298 1642L1308 1659.3A20 20 0 0 0 1318 1642Z" fill="#4bb3ae"/></g>
<g stroke-width="2"><path d="M1351.4 1640.1L1371.4 1640.1A20 20 0 0 0 1331.7 1636.6Z" fill="#d6001c"/><path d="M1351.4 1640.1L1331.7 1636.6A20 20 0 0 0 1369.5 1648.6Z" fill="#f09e00"/><path d="M1351.4 1640.1L1369.5 1648.6A20 20 0 0 0 1371.4 1640.1Z" fill="#4bb3ae"/></g>
<g stroke-width="2"><path d="M1310 1675.6L1330 1675.6A20 20 0 0 0 1329.9 1673.9Z" fill="#d6001c"/><path d="M1310 1675.6L1329.9 1673.9A20 20 0 0 0 1329.6 1671.8Z" fill="#000"/><path d="M1310 1675.6L1329.6 1671.8A20 20 0 1 0 1330 1675.6Z" fill="#4bb3ae"/></g>
<g stroke-width="2"><path d="M1324.2 1711.2L1344.2 1711.2A20 20 0 0 0 1344.1 1708.8Z" fill="#000"/><path d="M1324.2 1711.2L1344.1 1708.8A20 20 0 1 0 1344.2 1711.2Z" fill="#4bb3ae"/></g>
<g stroke-width="2"><path d="M1335.1 1750.8L1355.1 1750.8A20 20 0 0 0 1354.7 1746.6Z" fill="#f09e00"/><path d="M1335.1 1750.8L1354.7 1746.6A20 20 0 1 0 1355.1 1750.8Z" fill="#4bb3ae"/></g>
<g stroke-width="1.8"><circle cx="1437.4" cy="1702.6" r="15.7" fill="#4bb3ae"/><path d="M1437.4 1702.6L1453.1 1702.6"/></g>
<g stroke-width="2"><path d="M1403.7 1744.2L1423.1 1743.5A19.4 19.4 0 0 0 1422.8 1740.8Z" fill="#f09e00"/><path d="M1403.7 1744.2L1423.1 1744.2A19.4 19.4 0 0 0 1423.1 1743.5Z" fill="#000"/><path d="M1403.7 1744.2L1422.8 1740.8A19.4 19.4 0 1 0 1423.1 1744.2Z" fill="#4bb3ae"/></g>
<g stroke-width="2"><path d="M1365 1798.9L1385 1798.9A20 20 0 1 0 1381.4 1810.4Z" fill="#f09e00"/><path d="M1365 1798.9L1381.4 1810.4A20 20 0 0 0 1384.7 1802.4Z" fill="#4bb3ae"/><path d="M1365 1798.9L1384.7 1802.4A20 20 0 0 0 1385 1798.9Z" fill="#000"/></g>
<g stroke-width="2"><circle cx="1425.1" cy="1806.2" r="19.7" fill="#038fe3"/><path d="M1425.1 1806.2L1444.8 1805.2"/></g>
<g stroke-width="1.8"><path d="M1474.3 1785.7L1490 1785.7A15.7 15.7 0 1 0 1488.5 1792.3Z" fill="#038fe3"/><path d="M1474.3 1785.7L1488.5 1792.3A15.7 15.7 0 0 0 1489.9 1787.1Z" fill="#7da248"/><path d="M1474.3 1785.7L1489.9 1787.1A15.7 15.7 0 0 0 1490 1785.7Z" fill="#000"/></g>
<g stroke-width="1.8"><path d="M1477.1 1827.9L1492.8 1827.9A15.7 15.7 0 1 0 1475.7 1843.5Z" fill="#f09e00"/><path d="M1477.1 1827.9L1475.7 1843.5A15.7 15.7 0 0 0 1484.9 1841.5Z" fill="#4bb3ae"/><path d="M1477.1 1827.9L1484.9 1841.5A15.7 15.7 0 0 0 1492.8 1827.9Z" fill="#038fe3"/></g>
<g stroke-width="2"><path d="M1395.9 1853.6L1415.6 1853.6A19.7 19.7 0 1 0 1413.8 1861.9Z" fill="#f09e00"/><path d="M1395.9 1853.6L1413.8 1861.9A19.7 19.7 0 0 0 1415.4 1856.3Z" fill="#038fe3"/><path d="M1395.9 1853.6L1415.4 1856.3A19.7 19.7 0 0 0 1415.6 1853.6Z" fill="#000"/></g>
<g stroke-width="2"><path d="M1434.4 1869.4L1454.1 1869A19.7 19.7 0 1 0 1454.1 1869.8Z" fill="#f09e00"/><path d="M1434.4 1869.4L1454.1 1869.8A19.7 19.7 0 0 0 1454.1 1869Z" fill="#000"/></g>
<g stroke-width="2"><path d="M1404 1900.9L1424 1900.4A20 20 0 1 0 1424 1901.4Z" fill="#f09e00"/><path d="M1404 1900.9L1424 1901.4A20 20 0 0 0 1424 1900.4Z" fill="#000"/></g>
<g stroke-width="2"><path d="M1428.7 1933.2L1448.4 1933.2A19.7 19.7 0 1 0 1441.4 1948.3Z" fill="#d6001c"/><path d="M1428.7 1933.2L1441.4 1948.3A19.7 19.7 0 0 0 1447.7 1938.3Z" fill="#a458cc"/><path d="M1428.7 1933.2L1447.7 1938.3A19.7 19.7 0 0 0 1448.3 1935.6Z" fill="#f09e00"/><path d="M1428.7 1933.2L1448.3 1935.6A19.7 19.7 0 0 0 1448.4 1933.2Z" fill="#000"/></g>
<g stroke-width="1.8"><path d="M1462.5 1911.3L1478.2 1911.3A15.7 15.7 0 1 0 1453.5 1924.2Z" fill="#d6001c"/><path d="M1462.5 1911.3L1453.5 1924.2A15.7 15.7 0 0 0 1478.2 1911.3Z" fill="#f09e00"/></g>
<g stroke-width="1.8"><path d="M1464.7 1953.4L1480.4 1953.4A15.7 15.7 0 0 0 1466.1 1937.8Z" fill="#d6001c"/><path d="M1464.7 1953.4L1466.1 1937.8A15.7 15.7 0 0 0 1463.3 1969Z" fill="#a458cc"/><path d="M1464.7 1953.4L1463.3 1969A15.7 15.7 0 0 0 1480.4 1953.4Z" fill="#f09e00"/></g>
<g stroke-width="2.2"><path d="M1278.4 1871.3L1303.4 1871.3A25 25 0 1 0 1301.1 1881.9Z" fill="#f09e00"/><path d="M1278.4 1871.3L1301.1 1881.9A25 25 0 0 0 1303.2 1874.8Z" fill="#038fe3"/><path d="M1278.4 1871.3L1303.2 1874.8A25 25 0 0 0 1303.4 1871.3Z" fill="#000"/></g>
<g stroke-width="2.3"><path d="M1278.9 2099.8L1304.2 2099.8A25.3 25.3 0 0 0 1304.1 2097.6Z" fill="#d6001c"/><path d="M1278.9 2099.8L1304.1 2097.6A25.3 25.3 0 0 0 1303.3 2093.3Z" fill="#a458cc"/><path d="M1278.9 2099.8L1303.3 2093.3A25.3 25.3 0 0 0 1290.8 2077.5Z" fill="#f09e00"/><path d="M1278.9 2099.8L1290.8 2077.5A25.3 25.3 0 1 0 1304.2 2099.8Z" fill="#038fe3"/></g>
<g stroke-width="2.2"><path d="M1380.1 2031L1404.7 2031A24.6 24.6 0 0 0 1396.6 2012.7Z" fill="#d6001c"/><path d="M1380.1 2031L1396.6 2012.7A24.6 24.6 0 0 0 1380.1 2006.4Z" fill="#a458cc"/><path d="M1380.1 2031L1380.1 2006.4A24.6 24.6 0 1 0 1403.2 2039.4Z" fill="#f09e00"/><path d="M1380.1 2031L1403.2 2039.4A24.6 24.6 0 0 0 1404.6 2033.1Z" fill="#038fe3"/><path d="M1380.1 2031L1404.6 2033.1A24.6 24.6 0 0 0 1404.7 2031Z" fill="#000"/></g>
<g stroke-width="2"><path d="M1409.6 2000L1429.3 2000A19.7 19.7 0 0 0 1390.2 1996.6Z" fill="#d6001c"/><path d="M1409.6 2000L1390.2 1996.6A19.7 19.7 0 0 0 1420.9 2016.1Z" fill="#f09e00"/><path d="M1409.6 2000L1420.9 2016.1A19.7 19.7 0 0 0 1429.3 2000Z" fill="#4bb3ae"/></g>
<g stroke-width="1.8"><path d="M1456.8 2015.5L1472.5 2015.5A15.7 15.7 0 1 0 1451.4 2030.3Z" fill="#f09e00"/><path d="M1456.8 2015.5L1451.4 2030.3A15.7 15.7 0 0 0 1472.5 2015.5Z" fill="#4bb3ae"/></g>
<g stroke-width="1.8"><path d="M1456.3 2062.5L1472.2 2062.5A15.9 15.9 0 0 0 1469.3 2053.4Z" fill="#d6001c"/><path d="M1456.3 2062.5L1469.3 2053.4A15.9 15.9 0 0 0 1442.5 2054.6Z" fill="#a458cc"/><path d="M1456.3 2062.5L1442.5 2054.6A15.9 15.9 0 0 0 1460.4 2077.9Z" fill="#f09e00"/><path d="M1456.3 2062.5L1460.4 2077.9A15.9 15.9 0 0 0 1472.2 2062.5Z" fill="#038fe3"/></g>
<g stroke-width="1.8"><circle cx="1544.5" cy="2077.9" r="15.9" fill="#038fe3"/><path d="M1544.5 2077.9L1560.4 2077.9"/></g>
<g stroke-width="2.2"><path d="M1358.5 2169.3L1383.5 2169.3A25 25 0 1 0 1382.4 2176.6Z" fill="#038fe3"/><path d="M1358.5 2169.3L1382.4 2176.6A25 25 0 0 0 1383.5 2170.6Z" fill="#7da248"/><path d="M1358.5 2169.3L1383.5 2170.6A25 25 0 0 0 1383.5 2169.3Z" fill="#000"/></g>
<g stroke-width="2"><path d="M1379 2120.1L1399 2119.6A20 20 0 1 0 1399 2120.6Z" fill="#038fe3"/><path d="M1379 2120.1L1399 2120.6A20 20 0 0 0 1399 2119.6Z" fill="#000"/></g>
<g stroke-width="2"><path d="M1424.5 2167.3L1444.5 2167.3A20 20 0 1 0 1444.2 2170.8Z" fill="#038fe3"/><path d="M1424.5 2167.3L1444.2 2170.8A20 20 0 0 0 1444.5 2168Z" fill="#c689cd"/><path d="M1424.5 2167.3L1444.5 2168A20 20 0 0 0 1444.5 2167.3Z" fill="#000"/></g>
<g stroke-width="1.8"><path d="M1464.4 2182.5L1480.3 2182.5A15.9 15.9 0 0 0 1479.8 2178.4Z" fill="#038fe3"/><path d="M1464.4 2182.5L1479.8 2178.4A15.9 15.9 0 1 0 1456.5 2196.3Z" fill="#7da248"/><path d="M1464.4 2182.5L1456.5 2196.3A15.9 15.9 0 0 0 1480.3 2182.5Z" fill="#c689cd"/></g>
<g stroke-width="2"><path d="M1370.3 2218.3L1390.4 2217.8A20.1 20.1 0 1 0 1390.4 2218.8Z" fill="#7da248"/><path d="M1370.3 2218.3L1390.4 2218.8A20.1 20.1 0 0 0 1390.4 2217.8Z" fill="#000"/></g>
<g stroke-width="2"><path d="M1417.5 2270.3L1437.5 2269.8A20 20 0 1 0 1437.5 2270.8Z" fill="#7da248"/><path d="M1417.5 2270.3L1437.5 2270.8A20 20 0 0 0 1437.5 2269.8Z" fill="#000"/></g>
<g stroke-width="1.8"><circle cx="1433" cy="2229" r="15.9" fill="#7da248"/><path d="M1433 2229L1448.9 2229"/></g>
<g stroke-width="1.8"><circle cx="1465.3" cy="2245.3" r="15.9" fill="#7da248"/><path d="M1465.3 2245.3L1481.2 2245.3"/></g>
<g stroke-width="1.8"><path d="M1422.3 2311L1438 2311A15.7 15.7 0 0 0 1433.4 2299.9Z" fill="#038fe3"/><path d="M1422.3 2311L1433.4 2299.9A15.7 15.7 0 0 0 1426.4 2295.8Z" fill="#7da248"/><path d="M1422.3 2311L1426.4 2295.8A15.7 15.7 0 1 0 1438 2311Z" fill="#c689cd"/></g>
<g stroke-width="1.8"><circle cx="1468.9" cy="2311.9" r="15.7" fill="#c689cd"/><path d="M1468.9 2311.9L1484.6 2311.9"/></g>
<g stroke-width="1.8"><circle cx="1483" cy="2328.7" r="15.7" fill="#c689cd"/><path d="M1483 2328.7L1498.7 2328.7"/></g>
<g stroke-width="1.8"><path d="M1434.9 2344.2L1450.6 2344.2A15.7 15.7 0 0 0 1443.9 2331.3Z" fill="#038fe3"/><path d="M1434.9 2344.2L1443.9 2331.3A15.7 15.7 0 1 0 1450.6 2344.2Z" fill="#c689cd"/></g>
<g stroke-width="1.8"><path d="M1443.3 2375.1L1458.9 2373.7A15.7 15.7 0 1 0 1427.7 2377Z" fill="#038fe3"/><path d="M1443.3 2375.1L1427.7 2377A15.7 15.7 0 0 0 1458.9 2373.7Z" fill="#7da248"/></g>
<g stroke-width="1.8"><circle cx="1465.3" cy="2391.1" r="15.9" fill="#7da248"/><path d="M1465.3 2391.1L1481.2 2391.1"/></g>
</g>
<rect x="1653.7" y="16.4" width="21.5" height="13.4" fill="#038fe3"/>
<rect x="1677.5" y="16.4" width="21.5" height="13.4" fill="#d0d0d0"/>
<rect x="1701.3" y="16.4" width="21.5" height="13.4" fill="#d0d0d0"/>
<rect x="1725.1" y="16.4" width="21.5" height="13.4" fill="#d0d0d0"/>
<rect x="1653.7" y="37.2" width="21.5" height="13.4" fill="#c689cd"/>
<rect x="1677.5" y="37.2" width="21.5" height="13.4" fill="#d0d0d0"/>
<rect x="1701.3" y="37.2" width="21.5" height="13.4" fill="#d0d0d0"/>
<rect x="1725.1" y="37.2" width="21.5" height="13.4" fill="#d0d0d0"/>
<rect x="1653.7" y="58.1" width="21.5" height="13.4" fill="#c689cd"/>
<rect x="1677.5" y="58.1" width="21.5" height="13.4" fill="#d0d0d0"/>
<rect x="1701.3" y="58.1" width="21.5" height="13.4" fill="#d0d0d0"/>
<rect x="1725.1" y="58.1" width="21.5" height="13.4" fill="#d0d0d0"/>
<rect x="1653.7" y="79" width="21.5" height="13.4" fill="#d6001c"/>
<rect x="1677.5" y="79" width="21.5" height="13.4" fill="#d0d0d0"/>
<rect x="1701.3" y="79" width="21.5" height="13.4" fill="#d0d0d0"/>
<rect x="1725.1" y="79" width="21.5" height="13.4" fill="#d0d0d0"/>
<rect x="1653.7" y="99.8" width="21.5" height="13.4" fill="#d6001c"/>
<rect x="1677.5" y="99.8" width="21.5" height="13.4" fill="#d0d0d0"/>
<rect x="1701.3" y="99.8" width="21.5" height="13.4" fill="#d0d0d0"/>
<rect x="1725.1" y="99.8" width="21.5" height="13.4" fill="#d0d0d0"/>
<rect x="1653.7" y="120.6" width="21.5" height="13.4" fill="#d6001c"/>
<rect x="1677.5" y="120.6" width="21.5" height="13.4" fill="#d0d0d0"/>
<rect x="1701.3" y="120.6" width="21.5" height="13.4" fill="#d0d0d0"/>
<rect x="1725.1" y="120.6" width="21.5" height="13.4" fill="#d0d0d0"/>
<rect x="1653.7" y="141.5" width="21.5" height="13.4" fill="#10558d"/>
<rect x="1677.5" y="141.5" width="21.5" height="13.4" fill="#d0d0d0"/>
<rect x="1701.3" y="141.5" width="21.5" height="13.4" fill="#d0d0d0"/>
<rect x="1725.1" y="141.5" width="21.5" height="13.4" fill="#d0d0d0"/>
<rect x="1653.7" y="162.4" width="21.5" height="13.4" fill="#4bb3ae"/>
<rect x="1677.5" y="162.4" width="21.5" height="13.4" fill="#d0d0d0"/>
<rect x="1701.3" y="162.4" width="21.5" height="13.4" fill="#d0d0d0"/>
<rect x="1725.1" y="162.4" width="21.5" height="13.4" fill="#d0d0d0"/>
<rect x="1653.7" y="183.2" width="21.5" height="13.4" fill="#f09e00"/>
<rect x="1677.5" y="183.2" width="21.5" height="13.4" fill="#d0d0d0"/>
<rect x="1701.3" y="183.2" width="21.5" height="13.4" fill="#d0d0d0"/>
<rect x="1725.1" y="183.2" width="21.5" height="13.4" fill="#d0d0d0"/>
<rect x="1653.7" y="204.1" width="21.5" height="13.4" fill="#c9695a"/>
<rect x="1677.5" y="204.1" width="21.5" height="13.4" fill="#d0d0d0"/>
<rect x="1701.3" y="204.1" width="21.5" height="13.4" fill="#d0d0d0"/>
<rect x="1725.1" y="204.1" width="21.5" height="13.4" fill="#d0d0d0"/>
<rect x="1653.7" y="224.9" width="21.5" height="13.4" fill="#4bb3ae"/>
<rect x="1677.5" y="224.9" width="21.5" height="13.4" fill="#d0d0d0"/>
<rect x="1701.3" y="224.9" width="21.5" height="13.4" fill="#d0d0d0"/>
<rect x="1725.1" y="224.9" width="21.5" height="13.4" fill="#d0d0d0"/>
<rect x="1653.7" y="245.8" width="21.5" height="13.4" fill="#c689cd"/>
<rect x="1677.5" y="245.8" width="21.5" height="13.4" fill="#d0d0d0"/>
<rect x="1701.3" y="245.8" width="21.5" height="13.4" fill="#d0d0d0"/>
<rect x="1725.1" y="245.8" width="21.5" height="13.4" fill="#d0d0d0"/>
<rect x="1653.7" y="266.6" width="21.5" height="13.4" fill="#c689cd"/>
<rect x="1677.5" y="266.6" width="21.5" height="13.4" fill="#d0d0d0"/>
<rect x="1701.3" y="266.6" width="21.5" height="13.4" fill="#d0d0d0"/>
<rect x="1725.1" y="266.6" width="21.5" height="13.4" fill="#d0d0d0"/>
<rect x="1653.7" y="287.5" width="21.5" height="13.4" fill="#038fe3"/>
<rect x="1677.5" y="287.5" width="21.5" height="13.4" fill="#7da248"/>
<rect x="1701.3" y="287.5" width="21.5" height="13.4" fill="#d0d0d0"/>
<rect x="1725.1" y="287.5" width="21.5" height="13.4" fill="#d0d0d0"/>
<rect x="1653.7" y="308.3" width="21.5" height="13.4" fill="#7da248"/>
<rect x="1677.5" y="308.3" width="21.5" height="13.4" fill="#d0d0d0"/>
<rect x="1701.3" y="308.3" width="21.5" height="13.4" fill="#d0d0d0"/>
<rect x="1725.1" y="308.3" width="21.5" height="13.4" fill="#d0d0d0"/>
<rect x="1653.7" y="329.2" width="21.5" height="13.4" fill="#038fe3"/>
<rect x="1677.5" y="329.2" width="21.5" height="13.4" fill="#7da248"/>
<rect x="1701.3" y="329.2" width="21.5" height="13.4" fill="#d0d0d0"/>
<rect x="1725.1" y="329.2" width="21.5" height="13.4" fill="#d0d0d0"/>
<rect x="1653.7" y="350" width="21.5" height="13.4" fill="#c689cd"/>
<rect x="1677.5" y="350" width="21.5" height="13.4" fill="#d0d0d0"/>
<rect x="1701.3" y="350" width="21.5" height="13.4" fill="#d0d0d0"/>
<rect x="1725.1" y="350" width="21.5" height="13.4" fill="#d0d0d0"/>
<rect x="1653.7" y="370.9" width="21.5" height="13.4" fill="#f09e00"/>
<rect x="1677.5" y="370.9" width="21.5" height="13.4" fill="#d0d0d0"/>
<rect x="1701.3" y="370.9" width="21.5" height="13.4" fill="#d0d0d0"/>
<rect x="1725.1" y="370.9" width="21.5" height="13.4" fill="#d0d0d0"/>
<rect x="1653.7" y="391.7" width="21.5" height="13.4" fill="#4bb3ae"/>
<rect x="1677.5" y="391.7" width="21.5" height="13.4" fill="#d0d0d0"/>
<rect x="1701.3" y="391.7" width="21.5" height="13.4" fill="#d0d0d0"/>
<rect x="1725.1" y="391.7" width="21.5" height="13.4" fill="#d0d0d0"/>
<rect x="1653.7" y="412.6" width="21.5" height="13.4" fill="#f09e00"/>
<rect x="1677.5" y="412.6" width="21.5" height="13.4" fill="#d0d0d0"/>
<rect x="1701.3" y="412.6" width="21.5" height="13.4" fill="#d0d0d0"/>
<rect x="1725.1" y="412.6" width="21.5" height="13.4" fill="#d0d0d0"/>
<rect x="1653.7" y="433.4" width="21.5" height="13.4" fill="#038fe3"/>
<rect x="1677.5" y="433.4" width="21.5" height="13.4" fill="#d0d0d0"/>
<rect x="1701.3" y="433.4" width="21.5" height="13.4" fill="#d0d0d0"/>
<rect x="1725.1" y="433.4" width="21.5" height="13.4" fill="#d0d0d0"/>
<rect x="1653.7" y="454.3" width="21.5" height="13.4" fill="#c9695a"/>
<rect x="1677.5" y="454.3" width="21.5" height="13.4" fill="#d0d0d0"/>
<rect x="1701.3" y="454.3" width="21.5" height="13.4" fill="#d0d0d0"/>
<rect x="1725.1" y="454.3" width="21.5" height="13.4" fill="#d0d0d0"/>
<rect x="1653.7" y="475.1" width="21.5" height="13.4" fill="#f09e00"/>
<rect x="1677.5" y="475.1" width="21.5" height="13.4" fill="#d0d0d0"/>
<rect x="1701.3" y="475.1" width="21.5" height="13.4" fill="#d0d0d0"/>
<rect x="1725.1" y="475.1" width="21.5" height="13.4" fill="#d0d0d0"/>
<rect x="1653.7" y="496" width="21.5" height="13.4" fill="#10558d"/>
<rect x="1677.5" y="496" width="21.5" height="13.4" fill="#d0d0d0"/>
<rect x="1701.3" y="496" width="21.5" height="13.4" fill="#d0d0d0"/>
<rect x="1725.1" y="496" width="21.5" height="13.4" fill="#d0d0d0"/>
<rect x="1653.7" y="516.8" width="21.5" height="13.4" fill="#10558d"/>
<rect x="1677.5" y="516.8" width="21.5" height="13.4" fill="#d0d0d0"/>
<rect x="1701.3" y="516.8" width="21.5" height="13.4" fill="#d0d0d0"/>
<rect x="1725.1" y="516.8" width="21.5" height="13.4" fill="#d0d0d0"/>
<rect x="1653.7" y="537.6" width="21.5" height="13.4" fill="#d6001c"/>
<rect x="1677.5" y="537.6" width="21.5" height="13.4" fill="#d0d0d0"/>
<rect x="1701.3" y="537.6" width="21.5" height="13.4" fill="#d0d0d0"/>
<rect x="1725.1" y="537.6" width="21.5" height="13.4" fill="#d0d0d0"/>
<rect x="1653.7" y="558.5" width="21.5" height="13.4" fill="#038fe3"/>
<rect x="1677.5" y="558.5" width="21.5" height="13.4" fill="#d0d0d0"/>
<rect x="1701.3" y="558.5" width="21.5" height="13.4" fill="#d0d0d0"/>
<rect x="1725.1" y="558.5" width="21.5" height="13.4" fill="#d0d0d0"/>
<rect x="1653.7" y="579.4" width="21.5" height="13.4" fill="#038fe3"/>
<rect x="1677.5" y="579.4" width="21.5" height="13.4" fill="#d0d0d0"/>
<rect x="1701.3" y="579.4" width="21.5" height="13.4" fill="#d0d0d0"/>
<rect x="1725.1" y="579.4" width="21.5" height="13.4" fill="#d0d0d0"/>
<rect x="1653.7" y="600.2" width="21.5" height="13.4" fill="#038fe3"/>
<rect x="1677.5" y="600.2" width="21.5" height="13.4" fill="#d0d0d0"/>
<rect x="1701.3" y="600.2" width="21.5" height="13.4" fill="#d0d0d0"/>
<rect x="1725.1" y="600.2" width="21.5" height="13.4" fill="#d0d0d0"/>
<rect x="1653.7" y="621.1" width="21.5" height="13.4" fill="#f09e00"/>
<rect x="1677.5" y="621.1" width="21.5" height="13.4" fill="#c9695a"/>
<rect x="1701.3" y="621.1" width="21.5" height="13.4" fill="#d0d0d0"/>
<rect x="1725.1" y="621.1" width="21.5" height="13.4" fill="#d0d0d0"/>
<rect x="1653.7" y="641.9" width="21.5" height="13.4" fill="#d6001c"/>
<rect x="1677.5" y="641.9" width="21.5" height="13.4" fill="#d0d0d0"/>
<rect x="1701.3" y="641.9" width="21.5" height="13.4" fill="#d0d0d0"/>
<rect x="1725.1" y="641.9" width="21.5" height="13.4" fill="#d0d0d0"/>
<rect x="1653.7" y="662.8" width="21.5" height="13.4" fill="#c689cd"/>
<rect x="1677.5" y="662.8" width="21.5" height="13.4" fill="#038fe3"/>
<rect x="1701.3" y="662.8" width="21.5" height="13.4" fill="#7da248"/>
<rect x="1725.1" y="662.8" width="21.5" height="13.4" fill="#d0d0d0"/>
<rect x="1653.7" y="683.6" width="21.5" height="13.4" fill="#c689cd"/>
<rect x="1677.5" y="683.6" width="21.5" height="13.4" fill="#d0d0d0"/>
<rect x="1701.3" y="683.6" width="21.5" height="13.4" fill="#d0d0d0"/>
<rect x="1725.1" y="683.6" width="21.5" height="13.4" fill="#d0d0d0"/>
<rect x="1653.7" y="704.5" width="21.5" height="13.4" fill="#f09e00"/>
<rect x="1677.5" y="704.5" width="21.5" height="13.4" fill="#c9695a"/>
<rect x="1701.3" y="704.5" width="21.5" height="13.4" fill="#d0d0d0"/>
<rect x="1725.1" y="704.5" width="21.5" height="13.4" fill="#d0d0d0"/>
<rect x="1653.7" y="725.3" width="21.5" height="13.4" fill="#f09e00"/>
<rect x="1677.5" y="725.3" width="21.5" height="13.4" fill="#d0d0d0"/>
<rect x="1701.3" y="725.3" width="21.5" height="13.4" fill="#d0d0d0"/>
<rect x="1725.1" y="725.3" width="21.5" height="13.4" fill="#d0d0d0"/>
<rect x="1653.7" y="746.1" width="21.5" height="13.4" fill="#f09e00"/>
<rect x="1677.5" y="746.1" width="21.5" height="13.4" fill="#d0d0d0"/>
<rect x="1701.3" y="746.1" width="21.5" height="13.4" fill="#d0d0d0"/>
<rect x="1725.1" y="746.1" width="21.5" height="13.4" fill="#d0d0d0"/>
<rect x="1653.7" y="767" width="21.5" height="13.4" fill="#f09e00"/>
<rect x="1677.5" y="767" width="21.5" height="13.4" fill="#d0d0d0"/>
<rect x="1701.3" y="767" width="21.5" height="13.4" fill="#d0d0d0"/>
<rect x="1725.1" y="767" width="21.5" height="13.4" fill="#d0d0d0"/>
<rect x="1653.7" y="787.9" width="21.5" height="13.4" fill="#f09e00"/>
<rect x="1677.5" y="787.9" width="21.5" height="13.4" fill="#d0d0d0"/>
<rect x="1701.3" y="787.9" width="21.5" height="13.4" fill="#d0d0d0"/>
<rect x="1725.1" y="787.9" width="21.5" height="13.4" fill="#d0d0d0"/>
<rect x="1653.7" y="808.7" width="21.5" height="13.4" fill="#f09e00"/>
<rect x="1677.5" y="808.7" width="21.5" height="13.4" fill="#d0d0d0"/>
<rect x="1701.3" y="808.7" width="21.5" height="13.4" fill="#d0d0d0"/>
<rect x="1725.1" y="808.7" width="21.5" height="13.4" fill="#d0d0d0"/>
<rect x="1653.7" y="829.6" width="21.5" height="13.4" fill="#4bb3ae"/>
<rect x="1677.5" y="829.6" width="21.5" height="13.4" fill="#d0d0d0"/>
<rect x="1701.3" y="829.6" width="21.5" height="13.4" fill="#d0d0d0"/>
<rect x="1725.1" y="829.6" width="21.5" height="13.4" fill="#d0d0d0"/>
<rect x="1653.7" y="850.4" width="21.5" height="13.4" fill="#d6001c"/>
<rect x="1677.5" y="850.4" width="21.5" height="13.4" fill="#d0d0d0"/>
<rect x="1701.3" y="850.4" width="21.5" height="13.4" fill="#d0d0d0"/>
<rect x="1725.1" y="850.4" width="21.5" height="13.4" fill="#d0d0d0"/>
<rect x="1653.7" y="871.2" width="21.5" height="13.4" fill="#d6001c"/>
<rect x="1677.5" y="871.2" width="21.5" height="13.4" fill="#d0d0d0"/>
<rect x="1701.3" y="871.2" width="21.5" height="13.4" fill="#d0d0d0"/>
<rect x="1725.1" y="871.2" width="21.5" height="13.4" fill="#d0d0d0"/>
<rect x="1653.7" y="892.1" width="21.5" height="13.4" fill="#d6001c"/>
<rect x="1677.5" y="892.1" width="21.5" height="13.4" fill="#d0d0d0"/>
<rect x="1701.3" y="892.1" width="21.5" height="13.4" fill="#d0d0d0"/>
<rect x="1725.1" y="892.1" width="21.5" height="13.4" fill="#d0d0d0"/>
<rect x="1653.7" y="913" width="21.5" height="13.4" fill="#f09e00"/>
<rect x="1677.5" y="913" width="21.5" height="13.4" fill="#d0d0d0"/>
<rect x="1701.3" y="913" width="21.5" height="13.4" fill="#d0d0d0"/>
<rect x="1725.1" y="913" width="21.5" height="13.4" fill="#d0d0d0"/>
<rect x="1653.7" y="933.8" width="21.5" height="13.4" fill="#4bb3ae"/>
<rect x="1677.5" y="933.8" width="21.5" height="13.4" fill="#d0d0d0"/>
<rect x="1701.3" y="933.8" width="21.5" height="13.4" fill="#d0d0d0"/>
<rect x="1725.1" y="933.8" width="21.5" height="13.4" fill="#d0d0d0"/>
<rect x="1653.7" y="954.7" width="21.5" height="13.4" fill="#4bb3ae"/>
<rect x="1677.5" y="954.7" width="21.5" height="13.4" fill="#d0d0d0"/>
<rect x="1701.3" y="954.7" width="21.5" height="13.4" fill="#d0d0d0"/>
<rect x="1725.1" y="954.7" width="21.5" height="13.4" fill="#d0d0d0"/>
<rect x="1653.7" y="975.5" width="21.5" height="13.4" fill="#f09e00"/>
<rect x="1677.5" y="975.5" width="21.5" height="13.4" fill="#d0d0d0"/>
<rect x="1701.3" y="975.5" width="21.5" height="13.4" fill="#d0d0d0"/>
<rect x="1725.1" y="975.5" width="21.5" height="13.4" fill="#d0d0d0"/>
<rect x="1653.7" y="996.4" width="21.5" height="13.4" fill="#f09e00"/>
<rect x="1677.5" y="996.4" width="21.5" height="13.4" fill="#4bb3ae"/>
<rect x="1701.3" y="996.4" width="21.5" height="13.4" fill="#d0d0d0"/>
<rect x="1725.1" y="996.4" width="21.5" height="13.4" fill="#d0d0d0"/>
<rect x="1653.7" y="1017.2" width="21.5" height="13.4" fill="#f09e00"/>
<rect x="1677.5" y="1017.2" width="21.5" height="13.4" fill="#d0d0d0"/>
<rect x="1701.3" y="1017.2" width="21.5" height="13.4" fill="#d0d0d0"/>
<rect x="1725.1" y="1017.2" width="21.5" height="13.4" fill="#d0d0d0"/>
<rect x="1653.7" y="1038" width="21.5" height="13.4" fill="#7da248"/>
<rect x="1677.5" y="1038" width="21.5" height="13.4" fill="#d0d0d0"/>
<rect x="1701.3" y="1038" width="21.5" height="13.4" fill="#d0d0d0"/>
<rect x="1725.1" y="1038" width="21.5" height="13.4" fill="#d0d0d0"/>
<rect x="1653.7" y="1058.9" width="21.5" height="13.4" fill="#038fe3"/>
<rect x="1677.5" y="1058.9" width="21.5" height="13.4" fill="#d0d0d0"/>
<rect x="1701.3" y="1058.9" width="21.5" height="13.4" fill="#d0d0d0"/>
<rect x="1725.1" y="1058.9" width="21.5" height="13.4" fill="#d0d0d0"/>
<rect x="1653.7" y="1079.8" width="21.5" height="13.4" fill="#038fe3"/>
<rect x="1677.5" y="1079.8" width="21.5" height="13.4" fill="#d0d0d0"/>
<rect x="1701.3" y="1079.8" width="21.5" height="13.4" fill="#d0d0d0"/>
<rect x="1725.1" y="1079.8" width="21.5" height="13.4" fill="#d0d0d0"/>
<rect x="1653.7" y="1100.6" width="21.5" height="13.4" fill="#038fe3"/>
<rect x="1677.5" y="1100.6" width="21.5" height="13.4" fill="#d0d0d0"/>
<rect x="1701.3" y="1100.6" width="21.5" height="13.4" fill="#d0d0d0"/>
<rect x="1725.1" y="1100.6" width="21.5" height="13.4" fill="#d0d0d0"/>
<rect x="1653.7" y="1121.5" width="21.5" height="13.4" fill="#038fe3"/>
<rect x="1677.5" y="1121.5" width="21.5" height="13.4" fill="#7da248"/>
<rect x="1701.3" y="1121.5" width="21.5" height="13.4" fill="#d0d0d0"/>
<rect x="1725.1" y="1121.5" width="21.5" height="13.4" fill="#d0d0d0"/>
<rect x="1653.7" y="1142.3" width="21.5" height="13.4" fill="#038fe3"/>
<rect x="1677.5" y="1142.3" width="21.5" height="13.4" fill="#d0d0d0"/>
<rect x="1701.3" y="1142.3" width="21.5" height="13.4" fill="#d0d0d0"/>
<rect x="1725.1" y="1142.3" width="21.5" height="13.4" fill="#d0d0d0"/>
<rect x="1653.7" y="1163.1" width="21.5" height="13.4" fill="#038fe3"/>
<rect x="1677.5" y="1163.1" width="21.5" height="13.4" fill="#d0d0d0"/>
<rect x="1701.3" y="1163.1" width="21.5" height="13.4" fill="#d0d0d0"/>
<rect x="1725.1" y="1163.1" width="21.5" height="13.4" fill="#d0d0d0"/>
<rect x="1653.7" y="1184" width="21.5" height="13.4" fill="#f09e00"/>
<rect x="1677.5" y="1184" width="21.5" height="13.4" fill="#d0d0d0"/>
<rect x="1701.3" y="1184" width="21.5" height="13.4" fill="#d0d0d0"/>
<rect x="1725.1" y="1184" width="21.5" height="13.4" fill="#d0d0d0"/>
<rect x="1653.7" y="1204.8" width="21.5" height="13.4" fill="#f09e00"/>
<rect x="1677.5" y="1204.8" width="21.5" height="13.4" fill="#d0d0d0"/>
<rect x="1701.3" y="1204.8" width="21.5" height="13.4" fill="#d0d0d0"/>
<rect x="1725.1" y="1204.8" width="21.5" height="13.4" fill="#d0d0d0"/>
<rect x="1653.7" y="1225.7" width="21.5" height="13.4" fill="#f09e00"/>
<rect x="1677.5" y="1225.7" width="21.5" height="13.4" fill="#d0d0d0"/>
<rect x="1701.3" y="1225.7" width="21.5" height="13.4" fill="#d0d0d0"/>
<rect x="1725.1" y="1225.7" width="21.5" height="13.4" fill="#d0d0d0"/>
<rect x="1653.7" y="1246.5" width="21.5" height="13.4" fill="#f09e00"/>
<rect x="1677.5" y="1246.5" width="21.5" height="13.4" fill="#d0d0d0"/>
<rect x="1701.3" y="1246.5" width="21.5" height="13.4" fill="#d0d0d0"/>
<rect x="1725.1" y="1246.5" width="21.5" height="13.4" fill="#d0d0d0"/>
<rect x="1653.7" y="1267.4" width="21.5" height="13.4" fill="#f09e00"/>
<rect x="1677.5" y="1267.4" width="21.5" height="13.4" fill="#4bb3ae"/>
<rect x="1701.3" y="1267.4" width="21.5" height="13.4" fill="#d0d0d0"/>
<rect x="1725.1" y="1267.4" width="21.5" height="13.4" fill="#d0d0d0"/>
<rect x="1653.7" y="1288.2" width="21.5" height="13.4" fill="#f09e00"/>
<rect x="1677.5" y="1288.2" width="21.5" height="13.4" fill="#4bb3ae"/>
<rect x="1701.3" y="1288.2" width="21.5" height="13.4" fill="#d0d0d0"/>
<rect x="1725.1" y="1288.2" width="21.5" height="13.4" fill="#d0d0d0"/>
<rect x="1653.7" y="1309.1" width="21.5" height="13.4" fill="#c9695a"/>
<rect x="1677.5" y="1309.1" width="21.5" height="13.4" fill="#d0d0d0"/>
<rect x="1701.3" y="1309.1" width="21.5" height="13.4" fill="#d0d0d0"/>
<rect x="1725.1" y="1309.1" width="21.5" height="13.4" fill="#d0d0d0"/>
<rect x="1653.7" y="1330" width="21.5" height="13.4" fill="#f09e00"/>
<rect x="1677.5" y="1330" width="21.5" height="13.4" fill="#4bb3ae"/>
<rect x="1701.3" y="1330" width="21.5" height="13.4" fill="#c9695a"/>
<rect x="1725.1" y="1330" width="21.5" height="13.4" fill="#038fe3"/>
<rect x="1653.7" y="1350.8" width="21.5" height="13.4" fill="#4bb3ae"/>
<rect x="1677.5" y="1350.8" width="21.5" height="13.4" fill="#d0d0d0"/>
<rect x="1701.3" y="1350.8" width="21.5" height="13.4" fill="#d0d0d0"/>
<rect x="1725.1" y="1350.8" width="21.5" height="13.4" fill="#d0d0d0"/>
<rect x="1653.7" y="1371.6" width="21.5" height="13.4" fill="#d6001c"/>
<rect x="1677.5" y="1371.6" width="21.5" height="13.4" fill="#d0d0d0"/>
<rect x="1701.3" y="1371.6" width="21.5" height="13.4" fill="#d0d0d0"/>
<rect x="1725.1" y="1371.6" width="21.5" height="13.4" fill="#d0d0d0"/>
<rect x="1653.7" y="1392.5" width="21.5" height="13.4" fill="#d6001c"/>
<rect x="1677.5" y="1392.5" width="21.5" height="13.4" fill="#d0d0d0"/>
<rect x="1701.3" y="1392.5" width="21.5" height="13.4" fill="#d0d0d0"/>
<rect x="1725.1" y="1392.5" width="21.5" height="13.4" fill="#d0d0d0"/>
<rect x="1653.7" y="1413.3" width="21.5" height="13.4" fill="#d6001c"/>
<rect x="1677.5" y="1413.3" width="21.5" height="13.4" fill="#d0d0d0"/>
<rect x="1701.3" y="1413.3" width="21.5" height="13.4" fill="#d0d0d0"/>
<rect x="1725.1" y="1413.3" width="21.5" height="13.4" fill="#d0d0d0"/>
<rect x="1653.7" y="1434.2" width="21.5" height="13.4" fill="#d6001c"/>
<rect x="1677.5" y="1434.2" width="21.5" height="13.4" fill="#d0d0d0"/>
<rect x="1701.3" y="1434.2" width="21.5" height="13.4" fill="#d0d0d0"/>
<rect x="1725.1" y="1434.2" width="21.5" height="13.4" fill="#d0d0d0"/>
<rect x="1653.7" y="1455" width="21.5" height="13.4" fill="#d6001c"/>
<rect x="1677.5" y="1455" width="21.5" height="13.4" fill="#d0d0d0"/>
<rect x="1701.3" y="1455" width="21.5" height="13.4" fill="#d0d0d0"/>
<rect x="1725.1" y="1455" width="21.5" height="13.4" fill="#d0d0d0"/>
<rect x="1653.7" y="1475.9" width="21.5" height="13.4" fill="#d6001c"/>
<rect x="1677.5" y="1475.9" width="21.5" height="13.4" fill="#a458cc"/>
<rect x="1701.3" y="1475.9" width="21.5" height="13.4" fill="#f09e00"/>
<rect x="1725.1" y="1475.9" width="21.5" height="13.4" fill="#d0d0d0"/>
<rect x="1653.7" y="1496.8" width="21.5" height="13.4" fill="#d6001c"/>
<rect x="1677.5" y="1496.8" width="21.5" height="13.4" fill="#d0d0d0"/>
<rect x="1701.3" y="1496.8" width="21.5" height="13.4" fill="#d0d0d0"/>
<rect x="1725.1" y="1496.8" width="21.5" height="13.4" fill="#d0d0d0"/>
<rect x="1653.7" y="1517.6" width="21.5" height="13.4" fill="#d6001c"/>
<rect x="1677.5" y="1517.6" width="21.5" height="13.4" fill="#d0d0d0"/>
<rect x="1701.3" y="1517.6" width="21.5" height="13.4" fill="#d0d0d0"/>
<rect x="1725.1" y="1517.6" width="21.5" height="13.4" fill="#d0d0d0"/>
<rect x="1653.7" y="1538.5" width="21.5" height="13.4" fill="#d6001c"/>
<rect x="1677.5" y="1538.5" width="21.5" height="13.4" fill="#d0d0d0"/>
<rect x="1701.3" y="1538.5" width="21.5" height="13.4" fill="#d0d0d0"/>
<rect x="1725.1" y="1538.5" width="21.5" height="13.4" fill="#d0d0d0"/>
<rect x="1653.7" y="1559.3" width="21.5" height="13.4" fill="#d6001c"/>
<rect x="1677.5" y="1559.3" width="21.5" height="13.4" fill="#d0d0d0"/>
<rect x="1701.3" y="1559.3" width="21.5" height="13.4" fill="#d0d0d0"/>
<rect x="1725.1" y="1559.3" width="21.5" height="13.4" fill="#d0d0d0"/>
<rect x="1653.7" y="1580.1" width="21.5" height="13.4" fill="#d6001c"/>
<rect x="1677.5" y="1580.1" width="21.5" height="13.4" fill="#d0d0d0"/>
<rect x="1701.3" y="1580.1" width="21.5" height="13.4" fill="#d0d0d0"/>
<rect x="1725.1" y="1580.1" width="21.5" height="13.4" fill="#d0d0d0"/>
<rect x="1653.7" y="1601" width="21.5" height="13.4" fill="#f09e00"/>
<rect x="1677.5" y="1601" width="21.5" height="13.4" fill="#d0d0d0"/>
<rect x="1701.3" y="1601" width="21.5" height="13.4" fill="#d0d0d0"/>
<rect x="1725.1" y="1601" width="21.5" height="13.4" fill="#d0d0d0"/>
<rect x="1653.7" y="1621.8" width="21.5" height="13.4" fill="#d6001c"/>
<rect x="1677.5" y="1621.8" width="21.5" height="13.4" fill="#d0d0d0"/>
<rect x="1701.3" y="1621.8" width="21.5" height="13.4" fill="#d0d0d0"/>
<rect x="1725.1" y="1621.8" width="21.5" height="13.4" fill="#d0d0d0"/>
<rect x="1653.7" y="1642.7" width="21.5" height="13.4" fill="#f09e00"/>
<rect x="1677.5" y="1642.7" width="21.5" height="13.4" fill="#4bb3ae"/>
<rect x="1701.3" y="1642.7" width="21.5" height="13.4" fill="#d0d0d0"/>
<rect x="1725.1" y="1642.7" width="21.5" height="13.4" fill="#d0d0d0"/>
<rect x="1653.7" y="1663.5" width="21.5" height="13.4" fill="#f09e00"/>
<rect x="1677.5" y="1663.5" width="21.5" height="13.4" fill="#4bb3ae"/>
<rect x="1701.3" y="1663.5" width="21.5" height="13.4" fill="#d0d0d0"/>
<rect x="1725.1" y="1663.5" width="21.5" height="13.4" fill="#d0d0d0"/>
<rect x="1653.7" y="1684.4" width="21.5" height="13.4" fill="#4bb3ae"/>
<rect x="1677.5" y="1684.4" width="21.5" height="13.4" fill="#d0d0d0"/>
<rect x="1701.3" y="1684.4" width="21.5" height="13.4" fill="#d0d0d0"/>
<rect x="1725.1" y="1684.4" width="21.5" height="13.4" fill="#d0d0d0"/>
<rect x="1653.7" y="1705.2" width="21.5" height="13.4" fill="#4bb3ae"/>
<rect x="1677.5" y="1705.2" width="21.5" height="13.4" fill="#d0d0d0"/>
<rect x="1701.3" y="1705.2" width="21.5" height="13.4" fill="#d0d0d0"/>
<rect x="1725.1" y="1705.2" width="21.5" height="13.4" fill="#d0d0d0"/>
<rect x="1653.7" y="1726.1" width="21.5" height="13.4" fill="#4bb3ae"/>
<rect x="1677.5" y="1726.1" width="21.5" height="13.4" fill="#d0d0d0"/>
<rect x="1701.3" y="1726.1" width="21.5" height="13.4" fill="#d0d0d0"/>
<rect x="1725.1" y="1726.1" width="21.5" height="13.4" fill="#d0d0d0"/>
<rect x="1653.7" y="1747" width="21.5" height="13.4" fill="#f09e00"/>
<rect x="1677.5" y="1747" width="21.5" height="13.4" fill="#4bb3ae"/>
<rect x="1701.3" y="1747" width="21.5" height="13.4" fill="#d0d0d0"/>
<rect x="1725.1" y="1747" width="21.5" height="13.4" fill="#d0d0d0"/>
<rect x="1653.7" y="1767.8" width="21.5" height="13.4" fill="#038fe3"/>
<rect x="1677.5" y="1767.8" width="21.5" height="13.4" fill="#d0d0d0"/>
<rect x="1701.3" y="1767.8" width="21.5" height="13.4" fill="#d0d0d0"/>
<rect x="1725.1" y="1767.8" width="21.5" height="13.4" fill="#d0d0d0"/>
<rect x="1653.7" y="1788.7" width="21.5" height="13.4" fill="#038fe3"/>
<rect x="1677.5" y="1788.7" width="21.5" height="13.4" fill="#7da248"/>
<rect x="1701.3" y="1788.7" width="21.5" height="13.4" fill="#d0d0d0"/>
<rect x="1725.1" y="1788.7" width="21.5" height="13.4" fill="#d0d0d0"/>
<rect x="1653.7" y="1809.5" width="21.5" height="13.4" fill="#038fe3"/>
<rect x="1677.5" y="1809.5" width="21.5" height="13.4" fill="#d0d0d0"/>
<rect x="1701.3" y="1809.5" width="21.5" height="13.4" fill="#d0d0d0"/>
<rect x="1725.1" y="1809.5" width="21.5" height="13.4" fill="#d0d0d0"/>
<rect x="1653.7" y="1830.3" width="21.5" height="13.4" fill="#f09e00"/>
<rect x="1677.5" y="1830.3" width="21.5" height="13.4" fill="#4bb3ae"/>
<rect x="1701.3" y="1830.3" width="21.5" height="13.4" fill="#d0d0d0"/>
<rect x="1725.1" y="1830.3" width="21.5" height="13.4" fill="#d0d0d0"/>
<rect x="1653.7" y="1851.2" width="21.5" height="13.4" fill="#f09e00"/>
<rect x="1677.5" y="1851.2" width="21.5" height="13.4" fill="#d0d0d0"/>
<rect x="1701.3" y="1851.2" width="21.5" height="13.4" fill="#d0d0d0"/>
<rect x="1725.1" y="1851.2" width="21.5" height="13.4" fill="#d0d0d0"/>
<rect x="1653.7" y="1872" width="21.5" height="13.4" fill="#f09e00"/>
<rect x="1677.5" y="1872" width="21.5" height="13.4" fill="#d0d0d0"/>
<rect x="1701.3" y="1872" width="21.5" height="13.4" fill="#d0d0d0"/>
<rect x="1725.1" y="1872" width="21.5" height="13.4" fill="#d0d0d0"/>
<rect x="1653.7" y="1892.9" width="21.5" height="13.4" fill="#d6001c"/>
<rect x="1677.5" y="1892.9" width="21.5" height="13.4" fill="#d0d0d0"/>
<rect x="1701.3" y="1892.9" width="21.5" height="13.4" fill="#d0d0d0"/>
<rect x="1725.1" y="1892.9" width="21.5" height="13.4" fill="#d0d0d0"/>
<rect x="1653.7" y="1913.8" width="21.5" height="13.4" fill="#f09e00"/>
<rect x="1677.5" y="1913.8" width="21.5" height="13.4" fill="#d0d0d0"/>
<rect x="1701.3" y="1913.8" width="21.5" height="13.4" fill="#d0d0d0"/>
<rect x="1725.1" y="1913.8" width="21.5" height="13.4" fill="#d0d0d0"/>
<rect x="1653.7" y="1934.6" width="21.5" height="13.4" fill="#d6001c"/>
<rect x="1677.5" y="1934.6" width="21.5" height="13.4" fill="#a458cc"/>
<rect x="1701.3" y="1934.6" width="21.5" height="13.4" fill="#d0d0d0"/>
<rect x="1725.1" y="1934.6" width="21.5" height="13.4" fill="#d0d0d0"/>
<rect x="1653.7" y="1955.5" width="21.5" height="13.4" fill="#f09e00"/>
<rect x="1677.5" y="1955.5" width="21.5" height="13.4" fill="#d0d0d0"/>
<rect x="1701.3" y="1955.5" width="21.5" height="13.4" fill="#d0d0d0"/>
<rect x="1725.1" y="1955.5" width="21.5" height="13.4" fill="#d0d0d0"/>
<rect x="1653.7" y="1976.3" width="21.5" height="13.4" fill="#d6001c"/>
<rect x="1677.5" y="1976.3" width="21.5" height="13.4" fill="#d0d0d0"/>
<rect x="1701.3" y="1976.3" width="21.5" height="13.4" fill="#d0d0d0"/>
<rect x="1725.1" y="1976.3" width="21.5" height="13.4" fill="#d0d0d0"/>
<rect x="1653.7" y="1997.2" width="21.5" height="13.4" fill="#f09e00"/>
<rect x="1677.5" y="1997.2" width="21.5" height="13.4" fill="#4bb3ae"/>
<rect x="1701.3" y="1997.2" width="21.5" height="13.4" fill="#d0d0d0"/>
<rect x="1725.1" y="1997.2" width="21.5" height="13.4" fill="#d0d0d0"/>
<rect x="1653.7" y="2018" width="21.5" height="13.4" fill="#f09e00"/>
<rect x="1677.5" y="2018" width="21.5" height="13.4" fill="#4bb3ae"/>
<rect x="1701.3" y="2018" width="21.5" height="13.4" fill="#d0d0d0"/>
<rect x="1725.1" y="2018" width="21.5" height="13.4" fill="#d0d0d0"/>
<rect x="1653.7" y="2038.8" width="21.5" height="13.4" fill="#d6001c"/>
<rect x="1677.5" y="2038.8" width="21.5" height="13.4" fill="#a458cc"/>
<rect x="1701.3" y="2038.8" width="21.5" height="13.4" fill="#f09e00"/>
<rect x="1725.1" y="2038.8" width="21.5" height="13.4" fill="#d0d0d0"/>
<rect x="1653.7" y="2059.7" width="21.5" height="13.4" fill="#038fe3"/>
<rect x="1677.5" y="2059.7" width="21.5" height="13.4" fill="#d0d0d0"/>
<rect x="1701.3" y="2059.7" width="21.5" height="13.4" fill="#d0d0d0"/>
<rect x="1725.1" y="2059.7" width="21.5" height="13.4" fill="#d0d0d0"/>
<rect x="1653.7" y="2080.6" width="21.5" height="13.4" fill="#038fe3"/>
<rect x="1677.5" y="2080.6" width="21.5" height="13.4" fill="#d0d0d0"/>
<rect x="1701.3" y="2080.6" width="21.5" height="13.4" fill="#d0d0d0"/>
<rect x="1725.1" y="2080.6" width="21.5" height="13.4" fill="#d0d0d0"/>
<rect x="1653.7" y="2101.4" width="21.5" height="13.4" fill="#038fe3"/>
<rect x="1677.5" y="2101.4" width="21.5" height="13.4" fill="#d0d0d0"/>
<rect x="1701.3" y="2101.4" width="21.5" height="13.4" fill="#d0d0d0"/>
<rect x="1725.1" y="2101.4" width="21.5" height="13.4" fill="#d0d0d0"/>
<rect x="1653.7" y="2122.3" width="21.5" height="13.4" fill="#038fe3"/>
<rect x="1677.5" y="2122.3" width="21.5" height="13.4" fill="#d0d0d0"/>
<rect x="1701.3" y="2122.3" width="21.5" height="13.4" fill="#d0d0d0"/>
<rect x="1725.1" y="2122.3" width="21.5" height="13.4" fill="#d0d0d0"/>
<rect x="1653.7" y="2143.1" width="21.5" height="13.4" fill="#038fe3"/>
<rect x="1677.5" y="2143.1" width="21.5" height="13.4" fill="#d0d0d0"/>
<rect x="1701.3" y="2143.1" width="21.5" height="13.4" fill="#d0d0d0"/>
<rect x="1725.1" y="2143.1" width="21.5" height="13.4" fill="#d0d0d0"/>
<rect x="1653.7" y="2164" width="21.5" height="13.4" fill="#038fe3"/>
<rect x="1677.5" y="2164" width="21.5" height="13.4" fill="#7da248"/>
<rect x="1701.3" y="2164" width="21.5" height="13.4" fill="#d0d0d0"/>
<rect x="1725.1" y="2164" width="21.5" height="13.4" fill="#d0d0d0"/>
<rect x="1653.7" y="2184.8" width="21.5" height="13.4" fill="#c689cd"/>
<rect x="1677.5" y="2184.8" width="21.5" height="13.4" fill="#038fe3"/>
<rect x="1701.3" y="2184.8" width="21.5" height="13.4" fill="#7da248"/>
<rect x="1725.1" y="2184.8" width="21.5" height="13.4" fill="#d0d0d0"/>
<rect x="1653.7" y="2205.7" width="21.5" height="13.4" fill="#7da248"/>
<rect x="1677.5" y="2205.7" width="21.5" height="13.4" fill="#d0d0d0"/>
<rect x="1701.3" y="2205.7" width="21.5" height="13.4" fill="#d0d0d0"/>
<rect x="1725.1" y="2205.7" width="21.5" height="13.4" fill="#d0d0d0"/>
<rect x="1653.7" y="2226.5" width="21.5" height="13.4" fill="#7da248"/>
<rect x="1677.5" y="2226.5" width="21.5" height="13.4" fill="#d0d0d0"/>
<rect x="1701.3" y="2226.5" width="21.5" height="13.4" fill="#d0d0d0"/>
<rect x="1725.1" y="2226.5" width="21.5" height="13.4" fill="#d0d0d0"/>
<rect x="1653.7" y="2247.4" width="21.5" height="13.4" fill="#7da248"/>
<rect x="1677.5" y="2247.4" width="21.5" height="13.4" fill="#d0d0d0"/>
<rect x="1701.3" y="2247.4" width="21.5" height="13.4" fill="#d0d0d0"/>
<rect x="1725.1" y="2247.4" width="21.5" height="13.4" fill="#d0d0d0"/>
<rect x="1653.7" y="2268.2" width="21.5" height="13.4" fill="#7da248"/>
<rect x="1677.5" y="2268.2" width="21.5" height="13.4" fill="#d0d0d0"/>
<rect x="1701.3" y="2268.2" width="21.5" height="13.4" fill="#d0d0d0"/>
<rect x="1725.1" y="2268.2" width="21.5" height="13.4" fill="#d0d0d0"/>
<rect x="1653.7" y="2289.1" width="21.5" height="13.4" fill="#c689cd"/>
<rect x="1677.5" y="2289.1" width="21.5" height="13.4" fill="#d0d0d0"/>
<rect x="1701.3" y="2289.1" width="21.5" height="13.4" fill="#d0d0d0"/>
<rect x="1725.1" y="2289.1" width="21.5" height="13.4" fill="#d0d0d0"/>
<rect x="1653.7" y="2309.9" width="21.5" height="13.4" fill="#c689cd"/>
<rect x="1677.5" y="2309.9" width="21.5" height="13.4" fill="#d0d0d0"/>
<rect x="1701.3" y="2309.9" width="21.5" height="13.4" fill="#d0d0d0"/>
<rect x="1725.1" y="2309.9" width="21.5" height="13.4" fill="#d0d0d0"/>
<rect x="1653.7" y="2330.8" width="21.5" height="13.4" fill="#c689cd"/>
<rect x="1677.5" y="2330.8" width="21.5" height="13.4" fill="#d0d0d0"/>
<rect x="1701.3" y="2330.8" width="21.5" height="13.4" fill="#d0d0d0"/>
<rect x="1725.1" y="2330.8" width="21.5" height="13.4" fill="#d0d0d0"/>
<rect x="1653.7" y="2351.6" width="21.5" height="13.4" fill="#038fe3"/>
<rect x="1677.5" y="2351.6" width="21.5" height="13.4" fill="#d0d0d0"/>
<rect x="1701.3" y="2351.6" width="21.5" height="13.4" fill="#d0d0d0"/>
<rect x="1725.1" y="2351.6" width="21.5" height="13.4" fill="#d0d0d0"/>
<rect x="1653.7" y="2372.5" width="21.5" height="13.4" fill="#7da248"/>
<rect x="1677.5" y="2372.5" width="21.5" height="13.4" fill="#d0d0d0"/>
<rect x="1701.3" y="2372.5" width="21.5" height="13.4" fill="#d0d0d0"/>
<rect x="1725.1" y="2372.5" width="21.5" height="13.4" fill="#d0d0d0"/>
<rect x="1653.7" y="2393.3" width="21.5" height="13.4" fill="#7da248"/>
<rect x="1677.5" y="2393.3" width="21.5" height="13.4" fill="#d0d0d0"/>
<rect x="1701.3" y="2393.3" width="21.5" height="13.4" fill="#d0d0d0"/>
<rect x="1725.1" y="2393.3" width="21.5" height="13.4" fill="#d0d0d0"/>
<g font-family="'Liberation Sans',Arial,sans-serif" font-style="italic" font-size="22.6" fill="#000">
<text x="1767.2" y="29.6">Rena</text>
<text x="1767.2" y="50.5">Mitophis pyrites</text>
<text x="1767.2" y="71.4">M. asbolepis</text>
<text x="1767.2" y="92.2">Tricheilostoma</text>
<text x="1767.2" y="113.1">Myriopholis</text>
<text x="1767.2" y="134">Namibiana</text>
<text x="1767.2" y="154.9">Xenotyphlops</text>
<text x="1767.2" y="175.8">Gerrhopilus mirus</text>
<text x="1767.2" y="196.6">G. hedraeus</text>
<text x="1767.2" y="217.5">Anilios</text>
<text x="1767.2" y="238.4">Indotyphlops</text>
<text x="1767.2" y="259.3">Typhlops jamaicensis</text>
<text x="1767.2" y="280.2">T. agoraliensis</text>
<text x="1767.2" y="301">Liotyphlops</text>
<text x="1767.2" y="321.9">Anilius</text>
<text x="1767.2" y="342.8">Trachyboa</text>
<text x="1767.2" y="363.7">Tropidophis</text>
<text x="1767.2" y="384.6">Cylindrophis</text>
<text x="1767.2" y="405.4">Uropeltis</text>
<text x="1767.2" y="426.3">Xenopeltis</text>
<text x="1767.2" y="447.2">Loxocemus</text>
<text x="1767.2" y="468.1">Aspidites</text>
<text x="1767.2" y="489">Python</text>
<text x="1767.2" y="509.8">Casarea</text>
<text x="1767.2" y="530.7">Acrantophis</text>
<text x="1767.2" y="551.6">Calabaria</text>
<text x="1767.2" y="572.5">Lichanura</text>
<text x="1767.2" y="593.4">Exiliboa</text>
<text x="1767.2" y="614.2">Ungaliophis</text>
<text x="1767.2" y="635.1">Candoia</text>
<text x="1767.2" y="656">Eryx</text>
<text x="1767.2" y="676.9">Boa</text>
<text x="1767.2" y="697.8">Chilabothrus</text>
<text x="1767.2" y="718.6">Acrochordus javanicus</text>
<text x="1767.2" y="739.5">A. granulatus</text>
<text x="1767.2" y="760.4">Xenodermus</text>
<text x="1767.2" y="781.3">Achalinus</text>
<text x="1767.2" y="802.2">Aplopeltura</text>
<text x="1767.2" y="823">Pareas</text>
<text x="1767.2" y="843.9">Daboia</text>
<text x="1767.2" y="864.8">Atheris</text>
<text x="1767.2" y="885.7">Causus</text>
<text x="1767.2" y="906.6">Echis</text>
<text x="1767.2" y="927.4">Azemiops</text>
<text x="1767.2" y="948.3">Hypnale</text>
<text x="1767.2" y="969.2">Trimeresurus</text>
<text x="1767.2" y="990.1">Protobothrops</text>
<text x="1767.2" y="1011">Viridovipera</text>
<text x="1767.2" y="1031.8">Gloydius</text>
<text x="1767.2" y="1052.7">Lachesis</text>
<text x="1767.2" y="1073.6">Agkistrodon</text>
<text x="1767.2" y="1094.5">Crotalus</text>
<text x="1767.2" y="1115.4">Sistrurus</text>
<text x="1767.2" y="1136.2">Bothrops</text>
<text x="1767.2" y="1157.1">Atropoides picadoi</text>
<text x="1767.2" y="1178">A. occiduus</text>
<text x="1767.2" y="1198.9">Hypsiscopus</text>
<text x="1767.2" y="1219.8">Homalopsis</text>
<text x="1767.2" y="1240.6">Subsessor</text>
<text x="1767.2" y="1261.5">Calliophis</text>
<text x="1767.2" y="1282.4">Bungarus</text>
<text x="1767.2" y="1303.3">Naja</text>
<text x="1767.2" y="1324.2">Micrurus</text>
<text x="1767.2" y="1345">Laticauda</text>
<text x="1767.2" y="1365.9">Notechis</text>
<text x="1767.2" y="1386.8">Prosymna</text>
<text x="1767.2" y="1407.7">Aparallactus</text>
<text x="1767.2" y="1428.6">Atractaspis</text>
<text x="1767.2" y="1449.4">Macrelaps</text>
<text x="1767.2" y="1470.3">Psammophylax</text>
<text x="1767.2" y="1491.2">Malpolon</text>
<text x="1767.2" y="1512.1">Psammophis</text>
<text x="1767.2" y="1533">Boaedon</text>
<text x="1767.2" y="1553.8">Lycophidion</text>
<text x="1767.2" y="1574.7">Gonionotophis</text>
<text x="1767.2" y="1595.6">Hormonatus</text>
<text x="1767.2" y="1616.5">Pseudoxenodon</text>
<text x="1767.2" y="1637.4">Grayia</text>
<text x="1767.2" y="1658.2">Sibynophis</text>
<text x="1767.2" y="1679.1">Calamaria</text>
<text x="1767.2" y="1700">Ahaetulla</text>
<text x="1767.2" y="1720.9">Dendrelaphis</text>
<text x="1767.2" y="1741.8">Boiga</text>
<text x="1767.2" y="1762.6">Oligodon</text>
<text x="1767.2" y="1783.5">Coluber</text>
<text x="1767.2" y="1804.4">Drymarchon</text>
<text x="1767.2" y="1825.3">Lampropeltis</text>
<text x="1767.2" y="1846.2">Orthriophis</text>
<text x="1767.2" y="1867">Coelognathus</text>
<text x="1767.2" y="1887.9">Gonyosoma</text>
<text x="1767.2" y="1908.8">Hapsidophrys</text>
<text x="1767.2" y="1929.7">Lycodon</text>
<text x="1767.2" y="1950.6">Macroprotodon</text>
<text x="1767.2" y="1971.4">Orientocoluber</text>
<text x="1767.2" y="1992.3">Afronatrix</text>
<text x="1767.2" y="2013.2">Amphiesma</text>
<text x="1767.2" y="2034.1">Xenochrophis</text>
<text x="1767.2" y="2055">Natrix</text>
<text x="1767.2" y="2075.8">Storeria</text>
<text x="1767.2" y="2096.7">Thamnophis</text>
<text x="1767.2" y="2117.6">Diadophis</text>
<text x="1767.2" y="2138.5">Heterodon</text>
<text x="1767.2" y="2159.4">Pseudoleptodeira</text>
<text x="1767.2" y="2180.2">Imantodes</text>
<text x="1767.2" y="2201.1">Leptodeira</text>
<text x="1767.2" y="2222">Taeniophallus</text>
<text x="1767.2" y="2242.9">Helicops</text>
<text x="1767.2" y="2263.8">Tomodon</text>
<text x="1767.2" y="2284.6">Hydrodynastes</text>
<text x="1767.2" y="2305.5">Cubophis</text>
<text x="1767.2" y="2326.4">Arrhyton</text>
<text x="1767.2" y="2347.3">Uromacer</text>
<text x="1767.2" y="2368.2">Manolepis</text>
<text x="1767.2" y="2389">Elapomorphus</text>
<text x="1767.2" y="2409.9">Philodryas</text>
</g>
<rect x="216" y="1647.3" width="398" height="590" fill="#fff" fill-opacity="0.6"/>
<g font-family="'DejaVu Sans',Verdana,sans-serif" font-size="36.7" word-spacing="4" fill="#000">
<path d="M220.8 1711.6L265.8 1711.6A45 45 0 0 0 250.7 1678Z" fill="#d6001c" stroke="#000" stroke-width="2.5" stroke-linejoin="miter"/>
<text transform="translate(279 1711.6) scale(1.022 1)">Africa</text>
<path d="M220.8 1771.9L265.8 1771.9A45 45 0 0 0 250.7 1738.3Z" fill="#10558d" stroke="#000" stroke-width="2.5" stroke-linejoin="miter"/>
<text transform="translate(274.4 1771.9) scale(1.022 1)">Madagascar</text>
<path d="M220.8 1832.3L265.8 1832.3A45 45 0 0 0 250.7 1798.7Z" fill="#4bb3ae" stroke="#000" stroke-width="2.5" stroke-linejoin="miter"/>
<text transform="translate(274.4 1832.3) scale(1.022 1)">India + Sri Lanka</text>
<path d="M220.8 1892.6L265.8 1892.6A45 45 0 0 0 250.7 1859Z" fill="#f09e00" stroke="#000" stroke-width="2.5" stroke-linejoin="miter"/>
<text transform="translate(279 1892.6) scale(1.022 1)">Asia</text>
<path d="M220.8 1952.9L265.8 1952.9A45 45 0 0 0 250.7 1919.3Z" fill="#c9695a" stroke="#000" stroke-width="2.5" stroke-linejoin="miter"/>
<text transform="translate(274.4 1952.9) scale(1.022 1)">Oceania</text>
<path d="M220.8 2013.2L265.8 2013.2A45 45 0 0 0 250.7 1979.7Z" fill="#a458cc" stroke="#000" stroke-width="2.5" stroke-linejoin="miter"/>
<text transform="translate(274.4 2013.2) scale(1.022 1)">Europe</text>
<path d="M220.8 2073.6L265.8 2073.6A45 45 0 0 0 250.7 2040Z" fill="#038fe3" stroke="#000" stroke-width="2.5" stroke-linejoin="miter"/>
<text transform="translate(274.4 2073.6) scale(1.022 1)">North America</text>
<path d="M220.8 2133.9L265.8 2133.9A45 45 0 0 0 250.7 2100.3Z" fill="#7da248" stroke="#000" stroke-width="2.5" stroke-linejoin="miter"/>
<text transform="translate(274.4 2133.9) scale(1.022 1)">South America</text>
<path d="M220.8 2194.2L265.8 2194.2A45 45 0 0 0 250.7 2160.6Z" fill="#c689cd" stroke="#000" stroke-width="2.5" stroke-linejoin="miter"/>
<text transform="translate(274.4 2194.2) scale(1.022 1)">Caribbean</text>
</g>
<rect x="-5" y="2421.4" width="1639" height="45" fill="#e6e6e6"/>
<g fill="#b3b3b3">
<rect x="0" y="2421.4" width="34.3" height="45"/>
<rect x="216.3" y="2421.4" width="89.2" height="45"/>
<rect x="364.3" y="2421.4" width="49.2" height="45"/>
<rect x="451.7" y="2421.4" width="162.3" height="45"/>
<rect x="700" y="2421.4" width="138" height="45"/>
<rect x="1152" y="2421.4" width="156.6" height="45"/>
<rect x="1558.8" y="2421.4" width="38.6" height="45"/>
</g>
<g stroke="#000" stroke-width="3" fill="none">
<rect x="-5" y="2421.4" width="1639" height="45"/>
<path d="M700.4 2421.4V2466.4"/>
<path d="M1308.2 2421.4V2466.4"/>
<path d="M1597.5 2421.4V2466.4"/>
<path d="M216.4 2423.4V2466.4" stroke-dasharray="2.5 4.5"/>
<path d="M1634 2466.4V2487.8"/>
<path d="M1492.5 2466.4V2477.6"/>
<path d="M1351.1 2466.4V2487.8"/>
<path d="M1209.7 2466.4V2477.6"/>
<path d="M1068.2 2466.4V2487.8"/>
<path d="M926.8 2466.4V2477.6"/>
<path d="M785.3 2466.4V2487.8"/>
<path d="M643.9 2466.4V2477.6"/>
<path d="M502.4 2466.4V2487.8"/>
<path d="M361 2466.4V2477.6"/>
<path d="M219.5 2466.4V2487.8"/>
</g>
<g font-family="'Liberation Sans',Arial,sans-serif" font-size="23.8" fill="#000" text-anchor="middle">
<text x="1634" y="2511.5">0</text>
<text x="1351.1" y="2511.5">20</text>
<text x="1068.2" y="2511.5">40</text>
<text x="785.3" y="2511.5">60</text>
<text x="502.4" y="2511.5">80</text>
<text x="219.5" y="2511.5">100</text>
</g>
<g font-family="'DejaVu Sans',Verdana,sans-serif" fill="#000">
<text x="249.3" y="2456.6" font-size="30">Cretaceous</text>
<text x="924.6" y="2456.6" font-size="30">Paleogene</text>
<text x="1383.1" y="2456.6" font-size="30">Neogene</text>
<text transform="translate(824.3 2537.7) scale(1.032 1)" font-size="36.8" word-spacing="2.2">Time (Mya)</text>
</g>
</svg>
</body></html>
